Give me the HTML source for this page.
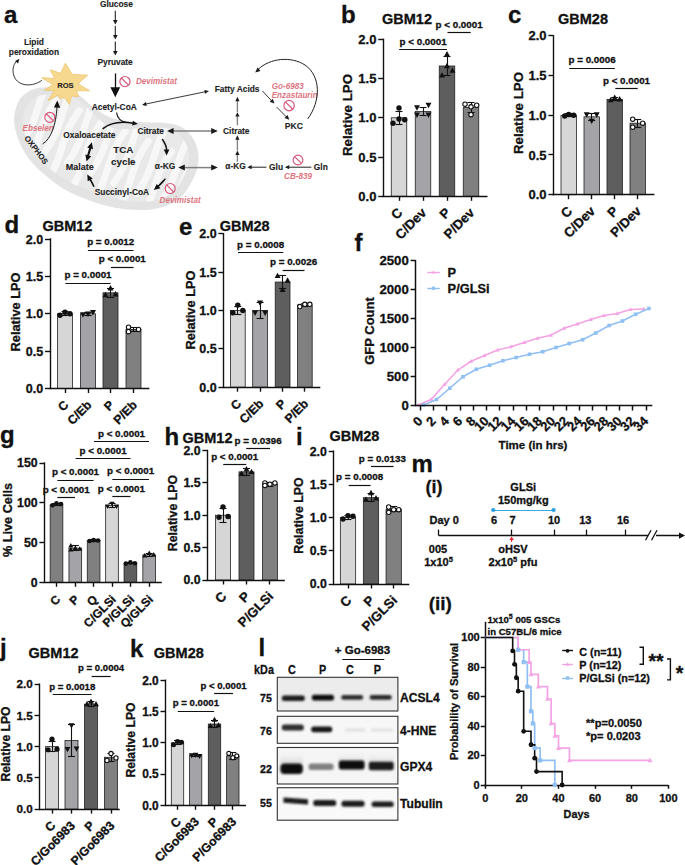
<!DOCTYPE html>
<html><head><meta charset="utf-8"><style>html,body{margin:0;padding:0;background:#fff;overflow:hidden}svg{display:block}</style></head>
<body>
<svg width="685" height="865" viewBox="0 0 685 865">
<rect width="685" height="865" fill="#fff"/>
<g style="font-family:'Liberation Sans',sans-serif">
<text x="4.00" y="23.00" font-size="24" font-weight="bold" text-anchor="start" fill="#111" stroke="#111" stroke-width="0.3">a</text>
<text x="341.00" y="23.00" font-size="24" font-weight="bold" text-anchor="start" fill="#111" stroke="#111" stroke-width="0.3">b</text>
<text x="508.00" y="23.00" font-size="24" font-weight="bold" text-anchor="start" fill="#111" stroke="#111" stroke-width="0.3">c</text>
<text x="4.50" y="233.00" font-size="24" font-weight="bold" text-anchor="start" fill="#111" stroke="#111" stroke-width="0.3">d</text>
<text x="179.00" y="235.00" font-size="24" font-weight="bold" text-anchor="start" fill="#111" stroke="#111" stroke-width="0.3">e</text>
<text x="354.50" y="251.00" font-size="24" font-weight="bold" text-anchor="start" fill="#111" stroke="#111" stroke-width="0.3">f</text>
<text x="0.00" y="443.00" font-size="24" font-weight="bold" text-anchor="start" fill="#111" stroke="#111" stroke-width="0.3">g</text>
<text x="164.50" y="445.00" font-size="24" font-weight="bold" text-anchor="start" fill="#111" stroke="#111" stroke-width="0.3">h</text>
<text x="296.00" y="444.50" font-size="24" font-weight="bold" text-anchor="start" fill="#111" stroke="#111" stroke-width="0.3">i</text>
<text x="411.50" y="471.50" font-size="24" font-weight="bold" text-anchor="start" fill="#111" stroke="#111" stroke-width="0.3">m</text>
<text x="0.00" y="655.50" font-size="24" font-weight="bold" text-anchor="start" fill="#111" stroke="#111" stroke-width="0.3">j</text>
<text x="130.00" y="657.00" font-size="24" font-weight="bold" text-anchor="start" fill="#111" stroke="#111" stroke-width="0.3">k</text>
<text x="258.50" y="655.50" font-size="24" font-weight="bold" text-anchor="start" fill="#111" stroke="#111" stroke-width="0.3">l</text>
<defs><clipPath id="mitoin"><path d="M22.99 123.06 C22.80 117.21 24.60 110.47 26.77 106.17 C28.95 101.87 32.39 99.26 36.06 97.25 C39.73 95.25 43.85 94.34 48.79 94.14 C53.74 93.94 61.06 95.24 65.73 96.08 C70.40 96.92 73.43 97.52 76.83 99.18 C80.22 100.85 83.18 103.53 86.09 106.07 C89.00 108.61 90.86 111.27 94.26 114.42 C97.67 117.57 102.66 122.54 106.52 124.99 C110.38 127.43 113.56 128.46 117.40 129.09 C121.23 129.72 125.40 128.94 129.54 128.77 C133.68 128.59 137.72 128.29 142.22 128.05 C146.72 127.80 152.05 127.17 156.53 127.31 C161.02 127.44 165.41 127.70 169.12 128.86 C172.82 130.03 176.04 131.93 178.78 134.30 C181.52 136.67 183.86 139.61 185.56 143.08 C187.27 146.56 188.66 151.11 189.01 155.13 C189.36 159.16 188.82 163.13 187.67 167.22 C186.52 171.31 184.41 175.69 182.10 179.68 C179.79 183.66 177.37 187.97 173.83 191.14 C170.30 194.32 165.18 196.97 160.88 198.71 C156.58 200.45 152.28 201.11 148.03 201.61 C143.79 202.10 140.41 202.08 135.41 201.68 C130.41 201.28 123.69 200.39 118.03 199.21 C112.37 198.03 106.66 196.27 101.44 194.61 C96.23 192.95 91.74 191.21 86.71 189.25 C81.68 187.30 76.74 185.80 71.27 182.89 C65.81 179.97 59.39 175.86 53.92 171.74 C48.46 167.62 42.80 163.24 38.46 158.16 C34.13 153.08 30.49 147.11 27.92 141.26 C25.34 135.41 23.18 128.91 22.99 123.06Z"/></clipPath></defs>
<path d="M14.00 120.00 C14.00 113.58 16.08 106.25 18.50 101.50 C20.92 96.75 24.58 93.83 28.50 91.50 C32.42 89.17 36.75 88.00 42.00 87.50 C47.25 87.00 55.00 87.92 60.00 88.50 C65.00 89.08 68.33 89.50 72.00 91.00 C75.67 92.50 78.83 95.08 82.00 97.50 C85.17 99.92 87.00 102.50 91.00 105.50 C95.00 108.50 101.00 113.03 106.00 115.50 C111.00 117.97 116.00 119.25 121.00 120.30 C126.00 121.35 131.17 121.42 136.00 121.80 C140.83 122.18 145.17 122.40 150.00 122.60 C154.83 122.80 160.33 122.52 165.00 123.00 C169.67 123.48 174.17 124.00 178.00 125.50 C181.83 127.00 185.17 129.25 188.00 132.00 C190.83 134.75 193.25 138.08 195.00 142.00 C196.75 145.92 198.17 151.00 198.50 155.50 C198.83 160.00 198.25 164.42 197.00 169.00 C195.75 173.58 193.50 178.50 191.00 183.00 C188.50 187.50 185.83 192.33 182.00 196.00 C178.17 199.67 172.67 202.83 168.00 205.00 C163.33 207.17 158.67 208.17 154.00 209.00 C149.33 209.83 145.67 210.08 140.00 210.00 C134.33 209.92 126.67 209.50 120.00 208.50 C113.33 207.50 106.33 205.83 100.00 204.00 C93.67 202.17 88.00 200.00 82.00 197.50 C76.00 195.00 70.17 192.75 64.00 189.00 C57.83 185.25 50.83 180.00 45.00 175.00 C39.17 170.00 33.42 164.83 29.00 159.00 C24.58 153.17 21.00 146.50 18.50 140.00 C16.00 133.50 14.00 126.42 14.00 120.00Z" fill="#e3e3e3"/>
<path d="M22.99 123.06 C22.80 117.21 24.60 110.47 26.77 106.17 C28.95 101.87 32.39 99.26 36.06 97.25 C39.73 95.25 43.85 94.34 48.79 94.14 C53.74 93.94 61.06 95.24 65.73 96.08 C70.40 96.92 73.43 97.52 76.83 99.18 C80.22 100.85 83.18 103.53 86.09 106.07 C89.00 108.61 90.86 111.27 94.26 114.42 C97.67 117.57 102.66 122.54 106.52 124.99 C110.38 127.43 113.56 128.46 117.40 129.09 C121.23 129.72 125.40 128.94 129.54 128.77 C133.68 128.59 137.72 128.29 142.22 128.05 C146.72 127.80 152.05 127.17 156.53 127.31 C161.02 127.44 165.41 127.70 169.12 128.86 C172.82 130.03 176.04 131.93 178.78 134.30 C181.52 136.67 183.86 139.61 185.56 143.08 C187.27 146.56 188.66 151.11 189.01 155.13 C189.36 159.16 188.82 163.13 187.67 167.22 C186.52 171.31 184.41 175.69 182.10 179.68 C179.79 183.66 177.37 187.97 173.83 191.14 C170.30 194.32 165.18 196.97 160.88 198.71 C156.58 200.45 152.28 201.11 148.03 201.61 C143.79 202.10 140.41 202.08 135.41 201.68 C130.41 201.28 123.69 200.39 118.03 199.21 C112.37 198.03 106.66 196.27 101.44 194.61 C96.23 192.95 91.74 191.21 86.71 189.25 C81.68 187.30 76.74 185.80 71.27 182.89 C65.81 179.97 59.39 175.86 53.92 171.74 C48.46 167.62 42.80 163.24 38.46 158.16 C34.13 153.08 30.49 147.11 27.92 141.26 C25.34 135.41 23.18 128.91 22.99 123.06Z" fill="#e9e9e9"/>
<g clip-path="url(#mitoin)" fill="none" stroke="#f7f7f7" stroke-width="7" stroke-linecap="round">
<g transform="translate(108 152) rotate(24)">
<path d="M-82.0 -50 C-88.0 -25 -76.0 -5 -83.0 26"/>
<path d="M-69.4 50 C-63.4 25 -75.4 5 -68.4 -26"/>
<path d="M-56.8 -50 C-62.8 -25 -50.8 -5 -57.8 26"/>
<path d="M-44.2 50 C-38.2 25 -50.2 5 -43.2 -26"/>
<path d="M-31.6 -50 C-37.6 -25 -25.6 -5 -32.6 26"/>
<path d="M-19.0 50 C-13.0 25 -25.0 5 -18.0 -26"/>
<path d="M-6.4 -50 C-12.4 -25 -0.4 -5 -7.4 26"/>
<path d="M6.2 50 C12.2 25 0.2 5 7.2 -26"/>
<path d="M18.8 -50 C12.8 -25 24.8 -5 17.8 26"/>
<path d="M31.4 50 C37.4 25 25.4 5 32.4 -26"/>
<path d="M44.0 -50 C38.0 -25 50.0 -5 43.0 26"/>
<path d="M56.6 50 C62.6 25 50.6 5 57.6 -26"/>
<path d="M69.2 -50 C63.2 -25 75.2 -5 68.2 26"/>
<path d="M81.8 50 C87.8 25 75.8 5 82.8 -26"/>
</g></g>
<polygon points="65.40,63.20 72.24,74.44 87.76,75.13 77.85,83.81 89.70,90.78 76.46,90.73 78.63,96.81 71.60,95.75 69.41,104.60 64.26,97.35 59.78,98.81 58.23,95.14 47.79,100.76 54.36,90.77 44.34,90.15 52.90,84.57 41.78,77.68 54.69,78.46 50.27,69.77 60.62,73.35" fill="#f6d98f" stroke="#ecc46c" stroke-width="0.8" stroke-linejoin="round"/>
<text x="65.40" y="87.80" font-size="7.6" font-weight="bold" text-anchor="middle" fill="#222" stroke="#222" stroke-width="0.12">ROS</text>
<text x="116.40" y="6.60" font-size="8.4" font-weight="bold" text-anchor="middle" fill="#222" stroke="#222" stroke-width="0.12">Glucose</text>
<text x="115.10" y="65.10" font-size="8.4" font-weight="bold" text-anchor="middle" fill="#222" stroke="#222" stroke-width="0.12">Pyruvate</text>
<text x="33.90" y="45.20" font-size="8.4" font-weight="bold" text-anchor="middle" fill="#222" stroke="#222" stroke-width="0.12">Lipid</text>
<text x="33.90" y="54.70" font-size="8.4" font-weight="bold" text-anchor="middle" fill="#222" stroke="#222" stroke-width="0.12">peroxidation</text>
<text x="91.70" y="109.60" font-size="8.4" font-weight="bold" text-anchor="start" fill="#222" stroke="#222" stroke-width="0.12">Acetyl-CoA</text>
<text x="63.30" y="137.60" font-size="8.4" font-weight="bold" text-anchor="start" fill="#222" stroke="#222" stroke-width="0.12">Oxaloacetate</text>
<text x="137.40" y="133.60" font-size="8.4" font-weight="bold" text-anchor="start" fill="#222" stroke="#222" stroke-width="0.12">Citrate</text>
<text x="123.30" y="153.00" font-size="9.8" font-weight="bold" text-anchor="middle" fill="#222" stroke="#222" stroke-width="0.12">TCA</text>
<text x="123.30" y="164.60" font-size="9.8" font-weight="bold" text-anchor="middle" fill="#222" stroke="#222" stroke-width="0.12">cycle</text>
<text x="65.80" y="169.80" font-size="9.0" font-weight="bold" text-anchor="start" fill="#222" stroke="#222" stroke-width="0.12">Malate</text>
<text x="154.80" y="169.30" font-size="8.4" font-weight="bold" text-anchor="start" fill="#222" stroke="#222" stroke-width="0.12">&#945;-KG</text>
<text x="94.70" y="194.80" font-size="8.4" font-weight="bold" text-anchor="start" fill="#222" stroke="#222" stroke-width="0.12">Succinyl-CoA</text>
<text x="214.70" y="91.70" font-size="8.4" font-weight="bold" text-anchor="start" fill="#222" stroke="#222" stroke-width="0.12">Fatty Acids</text>
<text x="223.00" y="134.00" font-size="8.4" font-weight="bold" text-anchor="start" fill="#222" stroke="#222" stroke-width="0.12">Citrate</text>
<text x="225.30" y="169.30" font-size="8.4" font-weight="bold" text-anchor="start" fill="#222" stroke="#222" stroke-width="0.12">&#945;-KG</text>
<text x="269.10" y="169.70" font-size="8.4" font-weight="bold" text-anchor="start" fill="#222" stroke="#222" stroke-width="0.12">Glu</text>
<text x="313.80" y="169.70" font-size="8.4" font-weight="bold" text-anchor="start" fill="#222" stroke="#222" stroke-width="0.12">Gln</text>
<text x="284.70" y="128.80" font-size="8.6" font-weight="bold" text-anchor="start" fill="#222" stroke="#222" stroke-width="0.12">PKC</text>
<text x="24.10" y="138.20" font-size="7.8" font-weight="bold" text-anchor="start" fill="#222" stroke="#222" stroke-width="0.12" transform="rotate(53 24.10 138.20)">OXPHOS</text>
<text x="135.90" y="84.30" font-size="8.15" font-weight="bold" text-anchor="start" fill="#dd7580" font-style="italic">Devimistat</text>
<text x="159.60" y="202.60" font-size="8.15" font-weight="bold" text-anchor="start" fill="#dd7580" font-style="italic">Devimistat</text>
<text x="22.50" y="130.60" font-size="8.15" font-weight="bold" text-anchor="start" fill="#dd7580" font-style="italic">Ebselen</text>
<text x="271.70" y="88.90" font-size="8.15" font-weight="bold" text-anchor="start" fill="#dd7580" font-style="italic">Go-6983</text>
<text x="271.70" y="97.80" font-size="8.15" font-weight="bold" text-anchor="start" fill="#dd7580" font-style="italic">Enzastaurin</text>
<text x="284.10" y="179.20" font-size="8.15" font-weight="bold" text-anchor="start" fill="#dd7580" font-style="italic">CB-839</text>
<circle cx="124.95" cy="81.6" r="5.1" fill="none" stroke="#d8557a" stroke-width="1.15"/>
<line x1="121.34" y1="77.99" x2="128.56" y2="85.21" stroke="#d8557a" stroke-width="1.15"/>
<circle cx="49.8" cy="117.3" r="5.0" fill="none" stroke="#d8557a" stroke-width="1.15"/>
<line x1="46.26" y1="113.76" x2="53.34" y2="120.84" stroke="#d8557a" stroke-width="1.15"/>
<circle cx="170.2" cy="188.5" r="5.0" fill="none" stroke="#d8557a" stroke-width="1.15"/>
<line x1="166.66" y1="184.96" x2="173.74" y2="192.04" stroke="#d8557a" stroke-width="1.15"/>
<circle cx="289.1" cy="105.6" r="5.2" fill="none" stroke="#d8557a" stroke-width="1.15"/>
<line x1="285.42" y1="101.92" x2="292.78" y2="109.28" stroke="#d8557a" stroke-width="1.15"/>
<circle cx="298" cy="160" r="4.9" fill="none" stroke="#d8557a" stroke-width="1.15"/>
<line x1="294.54" y1="156.54" x2="301.46" y2="163.46" stroke="#d8557a" stroke-width="1.15"/>
<line x1="115.3" y1="10.7" x2="115.3" y2="21.6" stroke="#1a1a1a" stroke-width="1.05"/>
<path d="M115.30 24.60 L112.95 20.10 L117.65 20.10Z" fill="#1a1a1a"/>
<line x1="115.3" y1="26" x2="115.3" y2="36.6" stroke="#1a1a1a" stroke-width="1.05"/>
<path d="M115.30 39.60 L112.95 35.10 L117.65 35.10Z" fill="#1a1a1a"/>
<line x1="115.3" y1="41.6" x2="115.3" y2="52.5" stroke="#1a1a1a" stroke-width="1.05"/>
<path d="M115.30 55.50 L112.95 51.00 L117.65 51.00Z" fill="#1a1a1a"/>
<line x1="115.50" y1="73.40" x2="115.50" y2="88.00" stroke="#111" stroke-width="1.3"/>
<path d="M115.30 97.30 L110.40 87.30 L120.20 87.30Z" fill="#111"/>
<line x1="144.00" y1="104.40" x2="206.00" y2="91.60" stroke="#222" stroke-width="0.9"/>
<path d="M142.00 104.90 L145.90 102.05 L146.71 105.97Z" fill="#1a1a1a"/>
<path d="M209.00 91.00 L205.10 93.85 L204.29 89.93Z" fill="#1a1a1a"/>
<path d="M41.8 80.3 C33 87 18 87 14 76 C11.5 69 14 63 17.5 60.5" fill="none" stroke="#222" stroke-width="0.9"/>
<path d="M19.40 58.80 L18.10 63.46 L15.04 60.89Z" fill="#1a1a1a"/>
<path d="M42.6 143.9 C51 139 56 125 57 107" fill="none" stroke="#222" stroke-width="1.0"/>
<path d="M57.30 100.60 L60.25 107.71 L53.86 107.48Z" fill="#111"/>
<path d="M116.5 112.5 C117.5 118 120 121.5 126 122.3" fill="none" stroke="#222" stroke-width="1.3"/>
<path d="M102.6 128.9 C110 123 120 121 133 123.2" fill="none" stroke="#111" stroke-width="1.5"/>
<path d="M137.90 124.00 L132.07 125.41 L132.90 120.68Z" fill="#111"/>
<path d="M162.2 139.1 C165 143 166.5 146 166.6 150" fill="none" stroke="#111" stroke-width="1.6"/>
<path d="M166.60 155.60 L163.80 149.40 L169.40 149.40Z" fill="#111"/>
<path d="M165.4 178.8 C162 182.5 160 185 157.5 187" fill="none" stroke="#111" stroke-width="1.6"/>
<path d="M153.80 190.10 L156.75 183.97 L160.35 188.26Z" fill="#111"/>
<path d="M94 186.8 C92 182 90.5 180 89.5 178.5" fill="none" stroke="#111" stroke-width="1.6"/>
<path d="M87.30 174.40 L92.68 178.56 L87.74 181.19Z" fill="#111"/>
<line x1="90.6" y1="147" x2="87.7" y2="157" stroke="#111" stroke-width="2.1"/>
<path d="M91.90 142.20 L92.99 149.28 L87.22 147.62Z" fill="#111"/>
<path d="M86.50 161.60 L85.41 154.52 L91.18 156.18Z" fill="#111"/>
<line x1="172" y1="131.1" x2="212.5" y2="131.1" stroke="#808080" stroke-width="1.5"/>
<path d="M167.00 131.10 L173.60 128.10 L173.60 134.10Z" fill="#1a1a1a"/>
<path d="M217.80 131.10 L211.20 134.10 L211.20 128.10Z" fill="#1a1a1a"/>
<line x1="183.2" y1="167.6" x2="212.5" y2="167.6" stroke="#808080" stroke-width="1.5"/>
<path d="M178.20 167.60 L184.80 164.60 L184.80 170.60Z" fill="#1a1a1a"/>
<path d="M217.80 167.60 L211.20 170.60 L211.20 164.60Z" fill="#1a1a1a"/>
<line x1="237.4" y1="161.8" x2="237.4" y2="154.0" stroke="#858585" stroke-width="1.4"/>
<path d="M237.40 150.50 L239.50 154.90 L235.30 154.90Z" fill="#1a1a1a"/>
<line x1="237.4" y1="150.5" x2="237.4" y2="138.8" stroke="#858585" stroke-width="1.4"/>
<path d="M237.40 135.30 L239.50 139.70 L235.30 139.70Z" fill="#1a1a1a"/>
<line x1="237.4" y1="125.3" x2="237.4" y2="115.7" stroke="#858585" stroke-width="1.4"/>
<path d="M237.40 112.20 L239.50 116.60 L235.30 116.60Z" fill="#1a1a1a"/>
<line x1="237.4" y1="112.2" x2="237.4" y2="100.3" stroke="#858585" stroke-width="1.4"/>
<path d="M237.40 96.80 L239.50 101.20 L235.30 101.20Z" fill="#1a1a1a"/>
<line x1="266.4" y1="167.2" x2="251" y2="167.2" stroke="#222" stroke-width="1"/>
<path d="M247.40 167.20 L251.60 165.10 L251.60 169.30Z" fill="#1a1a1a"/>
<line x1="311.4" y1="167.2" x2="288.5" y2="167.2" stroke="#222" stroke-width="1"/>
<path d="M285.00 167.20 L289.20 165.10 L289.20 169.30Z" fill="#1a1a1a"/>
<line x1="262.40" y1="91.00" x2="272.00" y2="101.20" stroke="#222" stroke-width="0.9"/>
<path d="M274.40 103.60 L269.64 101.78 L272.83 98.75Z" fill="#1a1a1a"/>
<line x1="276.70" y1="107.10" x2="287.00" y2="117.50" stroke="#222" stroke-width="0.9"/>
<path d="M289.30 119.80 L284.51 118.06 L287.64 114.98Z" fill="#1a1a1a"/>
<path d="M307.7 118.9 C321 101 321 76 305 65 C291 56 270 58 258 69.5" fill="none" stroke="#222" stroke-width="1.0"/>
<path d="M255.20 72.40 L257.55 67.42 L260.51 70.95Z" fill="#1a1a1a"/>
<rect x="391.25" y="117.80" width="15.50" height="78.50" fill="#d6d6d6" stroke="#222" stroke-width="0.8"/>
<rect x="415.25" y="111.52" width="15.50" height="84.78" fill="#a4a4a8" stroke="#222" stroke-width="0.8"/>
<rect x="439.25" y="65.99" width="15.50" height="130.31" fill="#5e5e5e" stroke="#222" stroke-width="0.8"/>
<rect x="463.25" y="107.60" width="15.50" height="88.70" fill="#808080" stroke="#222" stroke-width="0.8"/>
<line x1="399.50" y1="111.13" x2="399.50" y2="124.47" stroke="#111" stroke-width="1.1"/>
<line x1="395.50" y1="111.50" x2="402.50" y2="111.50" stroke="#111" stroke-width="1.1"/>
<line x1="395.50" y1="124.50" x2="402.50" y2="124.50" stroke="#111" stroke-width="1.1"/>
<circle cx="393.00" cy="123.30" r="2.70" fill="#111"/>
<circle cx="399.00" cy="118.98" r="2.70" fill="#111"/>
<circle cx="404.70" cy="119.76" r="2.70" fill="#111"/>
<circle cx="399.00" cy="107.99" r="2.70" fill="#111"/>
<line x1="423.50" y1="107.44" x2="423.50" y2="115.60" stroke="#111" stroke-width="1.1"/>
<line x1="419.50" y1="107.50" x2="426.50" y2="107.50" stroke="#111" stroke-width="1.1"/>
<line x1="419.50" y1="115.50" x2="426.50" y2="115.50" stroke="#111" stroke-width="1.1"/>
<path d="M417.00 110.68 L419.97 105.28 L414.03 105.28Z" fill="#111"/>
<path d="M428.50 108.24 L431.47 102.84 L425.53 102.84Z" fill="#111"/>
<path d="M417.00 117.90 L419.97 112.50 L414.03 112.50Z" fill="#111"/>
<path d="M428.50 117.90 L431.47 112.50 L425.53 112.50Z" fill="#111"/>
<line x1="447.50" y1="56.96" x2="447.50" y2="75.02" stroke="#111" stroke-width="1.1"/>
<line x1="443.50" y1="56.50" x2="450.50" y2="56.50" stroke="#111" stroke-width="1.1"/>
<line x1="443.50" y1="75.50" x2="450.50" y2="75.50" stroke="#111" stroke-width="1.1"/>
<path d="M447.00 50.98 L449.97 56.38 L444.03 56.38Z" fill="#111"/>
<path d="M442.00 72.17 L444.97 77.57 L439.03 77.57Z" fill="#111"/>
<path d="M452.40 67.46 L455.37 72.86 L449.43 72.86Z" fill="#111"/>
<path d="M447.00 62.75 L449.97 68.15 L444.03 68.15Z" fill="#111"/>
<line x1="471.50" y1="102.89" x2="471.50" y2="112.31" stroke="#111" stroke-width="1.1"/>
<line x1="467.50" y1="102.50" x2="474.50" y2="102.50" stroke="#111" stroke-width="1.1"/>
<line x1="467.50" y1="112.50" x2="474.50" y2="112.50" stroke="#111" stroke-width="1.1"/>
<circle cx="465.00" cy="104.22" r="2.20" fill="#fff" stroke="#111" stroke-width="1.1"/>
<circle cx="476.70" cy="105.24" r="2.20" fill="#fff" stroke="#111" stroke-width="1.1"/>
<circle cx="471.00" cy="114.66" r="2.20" fill="#fff" stroke="#111" stroke-width="1.1"/>
<circle cx="471.00" cy="106.81" r="2.20" fill="#fff" stroke="#111" stroke-width="1.1"/>
<line x1="383.50" y1="38.60" x2="383.50" y2="197.00" stroke="#111" stroke-width="1.4"/>
<line x1="382.50" y1="196.50" x2="487.50" y2="196.50" stroke="#111" stroke-width="1.4"/>
<line x1="378.20" y1="196.50" x2="383.20" y2="196.50" stroke="#111" stroke-width="1.4"/>
<text x="376.40" y="200.98" font-size="13" font-weight="bold" text-anchor="end" fill="#111" stroke="#111" stroke-width="0.3">0.0</text>
<line x1="378.20" y1="157.50" x2="383.20" y2="157.50" stroke="#111" stroke-width="1.4"/>
<text x="376.40" y="161.73" font-size="13" font-weight="bold" text-anchor="end" fill="#111" stroke="#111" stroke-width="0.3">0.5</text>
<line x1="378.20" y1="117.50" x2="383.20" y2="117.50" stroke="#111" stroke-width="1.4"/>
<text x="376.40" y="122.48" font-size="13" font-weight="bold" text-anchor="end" fill="#111" stroke="#111" stroke-width="0.3">1.0</text>
<line x1="378.20" y1="78.50" x2="383.20" y2="78.50" stroke="#111" stroke-width="1.4"/>
<text x="376.40" y="83.23" font-size="13" font-weight="bold" text-anchor="end" fill="#111" stroke="#111" stroke-width="0.3">1.5</text>
<line x1="378.20" y1="39.50" x2="383.20" y2="39.50" stroke="#111" stroke-width="1.4"/>
<text x="376.40" y="43.98" font-size="13" font-weight="bold" text-anchor="end" fill="#111" stroke="#111" stroke-width="0.3">2.0</text>
<line x1="399.50" y1="196.30" x2="399.50" y2="200.80" stroke="#111" stroke-width="1.4"/>
<line x1="423.50" y1="196.30" x2="423.50" y2="200.80" stroke="#111" stroke-width="1.4"/>
<line x1="447.50" y1="196.30" x2="447.50" y2="200.80" stroke="#111" stroke-width="1.4"/>
<line x1="471.50" y1="196.30" x2="471.50" y2="200.80" stroke="#111" stroke-width="1.4"/>
<text x="403.30" y="213.50" font-size="13.3" font-weight="bold" text-anchor="end" fill="#111" stroke="#111" stroke-width="0.3" transform="rotate(-45 403.30 213.50)">C</text>
<text x="427.30" y="213.50" font-size="13.3" font-weight="bold" text-anchor="end" fill="#111" stroke="#111" stroke-width="0.3" transform="rotate(-45 427.30 213.50)">C/Dev</text>
<text x="451.30" y="213.50" font-size="13.3" font-weight="bold" text-anchor="end" fill="#111" stroke="#111" stroke-width="0.3" transform="rotate(-45 451.30 213.50)">P</text>
<text x="475.30" y="213.50" font-size="13.3" font-weight="bold" text-anchor="end" fill="#111" stroke="#111" stroke-width="0.3" transform="rotate(-45 475.30 213.50)">P/Dev</text>
<line x1="399.20" y1="49.50" x2="447.00" y2="49.50" stroke="#111" stroke-width="1.2"/>
<text x="423.10" y="44.60" font-size="9.8" font-weight="bold" text-anchor="middle" fill="#111" stroke="#111" stroke-width="0.3">p &lt; 0.0001</text>
<line x1="447.50" y1="32.50" x2="470.70" y2="32.50" stroke="#111" stroke-width="1.2"/>
<text x="459.10" y="27.90" font-size="9.8" font-weight="bold" text-anchor="middle" fill="#111" stroke="#111" stroke-width="0.3">p &lt; 0.0001</text>
<text x="352.00" y="115.00" font-size="13.3" font-weight="bold" text-anchor="middle" fill="#111" stroke="#111" stroke-width="0.3" transform="rotate(-90 352.00 115.00)">Relative LPO</text>
<text x="382.00" y="23.70" font-size="14.5" font-weight="bold" text-anchor="start" fill="#111" stroke="#111" stroke-width="0.3">GBM12</text>
<rect x="561.00" y="115.25" width="15.40" height="79.45" fill="#d6d6d6" stroke="#222" stroke-width="0.8"/>
<rect x="584.00" y="116.84" width="15.40" height="77.86" fill="#a4a4a8" stroke="#222" stroke-width="0.8"/>
<rect x="607.00" y="99.36" width="15.40" height="95.34" fill="#5e5e5e" stroke="#222" stroke-width="0.8"/>
<rect x="630.00" y="123.19" width="15.40" height="71.50" fill="#808080" stroke="#222" stroke-width="0.8"/>
<line x1="568.50" y1="113.66" x2="568.50" y2="116.84" stroke="#111" stroke-width="1.1"/>
<line x1="565.20" y1="113.50" x2="572.20" y2="113.50" stroke="#111" stroke-width="1.1"/>
<line x1="565.20" y1="116.50" x2="572.20" y2="116.50" stroke="#111" stroke-width="1.1"/>
<circle cx="564.70" cy="116.04" r="2.70" fill="#111"/>
<circle cx="568.70" cy="114.46" r="2.70" fill="#111"/>
<circle cx="573.70" cy="115.25" r="2.70" fill="#111"/>
<line x1="591.50" y1="113.66" x2="591.50" y2="120.02" stroke="#111" stroke-width="1.1"/>
<line x1="588.20" y1="113.50" x2="595.20" y2="113.50" stroke="#111" stroke-width="1.1"/>
<line x1="588.20" y1="120.50" x2="595.20" y2="120.50" stroke="#111" stroke-width="1.1"/>
<path d="M586.70 117.70 L589.67 112.30 L583.73 112.30Z" fill="#111"/>
<path d="M596.70 117.70 L599.67 112.30 L593.73 112.30Z" fill="#111"/>
<path d="M591.70 124.05 L594.67 118.65 L588.73 118.65Z" fill="#111"/>
<line x1="614.50" y1="97.77" x2="614.50" y2="100.95" stroke="#111" stroke-width="1.1"/>
<line x1="611.20" y1="97.50" x2="618.20" y2="97.50" stroke="#111" stroke-width="1.1"/>
<line x1="611.20" y1="100.50" x2="618.20" y2="100.50" stroke="#111" stroke-width="1.1"/>
<path d="M610.70 96.91 L613.67 102.31 L607.73 102.31Z" fill="#111"/>
<path d="M614.70 94.53 L617.67 99.93 L611.73 99.93Z" fill="#111"/>
<path d="M619.70 96.12 L622.67 101.52 L616.73 101.52Z" fill="#111"/>
<line x1="637.50" y1="119.22" x2="637.50" y2="127.17" stroke="#111" stroke-width="1.1"/>
<line x1="634.20" y1="119.50" x2="641.20" y2="119.50" stroke="#111" stroke-width="1.1"/>
<line x1="634.20" y1="127.50" x2="641.20" y2="127.50" stroke="#111" stroke-width="1.1"/>
<circle cx="632.70" cy="119.22" r="2.20" fill="#fff" stroke="#111" stroke-width="1.1"/>
<circle cx="642.70" cy="123.19" r="2.20" fill="#fff" stroke="#111" stroke-width="1.1"/>
<circle cx="632.70" cy="127.17" r="2.20" fill="#fff" stroke="#111" stroke-width="1.1"/>
<line x1="553.50" y1="35.10" x2="553.50" y2="195.40" stroke="#111" stroke-width="1.4"/>
<line x1="552.70" y1="194.50" x2="654.40" y2="194.50" stroke="#111" stroke-width="1.4"/>
<line x1="548.40" y1="194.50" x2="553.40" y2="194.50" stroke="#111" stroke-width="1.4"/>
<text x="546.60" y="199.38" font-size="13" font-weight="bold" text-anchor="end" fill="#111" stroke="#111" stroke-width="0.3">0.0</text>
<line x1="548.40" y1="154.50" x2="553.40" y2="154.50" stroke="#111" stroke-width="1.4"/>
<text x="546.60" y="159.66" font-size="13" font-weight="bold" text-anchor="end" fill="#111" stroke="#111" stroke-width="0.3">0.5</text>
<line x1="548.40" y1="115.50" x2="553.40" y2="115.50" stroke="#111" stroke-width="1.4"/>
<text x="546.60" y="119.93" font-size="13" font-weight="bold" text-anchor="end" fill="#111" stroke="#111" stroke-width="0.3">1.0</text>
<line x1="548.40" y1="75.50" x2="553.40" y2="75.50" stroke="#111" stroke-width="1.4"/>
<text x="546.60" y="80.21" font-size="13" font-weight="bold" text-anchor="end" fill="#111" stroke="#111" stroke-width="0.3">1.5</text>
<line x1="548.40" y1="35.50" x2="553.40" y2="35.50" stroke="#111" stroke-width="1.4"/>
<text x="546.60" y="40.48" font-size="13" font-weight="bold" text-anchor="end" fill="#111" stroke="#111" stroke-width="0.3">2.0</text>
<line x1="568.50" y1="194.70" x2="568.50" y2="199.20" stroke="#111" stroke-width="1.4"/>
<line x1="591.50" y1="194.70" x2="591.50" y2="199.20" stroke="#111" stroke-width="1.4"/>
<line x1="614.50" y1="194.70" x2="614.50" y2="199.20" stroke="#111" stroke-width="1.4"/>
<line x1="637.50" y1="194.70" x2="637.50" y2="199.20" stroke="#111" stroke-width="1.4"/>
<text x="573.00" y="211.90" font-size="13.3" font-weight="bold" text-anchor="end" fill="#111" stroke="#111" stroke-width="0.3" transform="rotate(-45 573.00 211.90)">C</text>
<text x="596.00" y="211.90" font-size="13.3" font-weight="bold" text-anchor="end" fill="#111" stroke="#111" stroke-width="0.3" transform="rotate(-45 596.00 211.90)">C/Dev</text>
<text x="619.00" y="211.90" font-size="13.3" font-weight="bold" text-anchor="end" fill="#111" stroke="#111" stroke-width="0.3" transform="rotate(-45 619.00 211.90)">P</text>
<text x="642.00" y="211.90" font-size="13.3" font-weight="bold" text-anchor="end" fill="#111" stroke="#111" stroke-width="0.3" transform="rotate(-45 642.00 211.90)">P/Dev</text>
<line x1="569.30" y1="68.50" x2="614.80" y2="68.50" stroke="#111" stroke-width="1.2"/>
<text x="592.05" y="63.40" font-size="9.8" font-weight="bold" text-anchor="middle" fill="#111" stroke="#111" stroke-width="0.3">p = 0.0006</text>
<line x1="615.30" y1="88.50" x2="637.70" y2="88.50" stroke="#111" stroke-width="1.2"/>
<text x="626.50" y="84.30" font-size="9.8" font-weight="bold" text-anchor="middle" fill="#111" stroke="#111" stroke-width="0.3">p &lt; 0.0001</text>
<text x="522.50" y="113.00" font-size="13.3" font-weight="bold" text-anchor="middle" fill="#111" stroke="#111" stroke-width="0.3" transform="rotate(-90 522.50 113.00)">Relative LPO</text>
<text x="558.00" y="23.80" font-size="14.5" font-weight="bold" text-anchor="start" fill="#111" stroke="#111" stroke-width="0.3">GBM28</text>
<rect x="57.50" y="313.75" width="15.00" height="74.75" fill="#d6d6d6" stroke="#222" stroke-width="0.8"/>
<rect x="80.50" y="313.75" width="15.00" height="74.75" fill="#a4a4a8" stroke="#222" stroke-width="0.8"/>
<rect x="103.00" y="292.82" width="15.00" height="95.68" fill="#5e5e5e" stroke="#222" stroke-width="0.8"/>
<rect x="126.00" y="329.45" width="15.00" height="59.05" fill="#808080" stroke="#222" stroke-width="0.8"/>
<line x1="65.50" y1="311.51" x2="65.50" y2="315.99" stroke="#111" stroke-width="1.1"/>
<line x1="61.50" y1="311.50" x2="68.50" y2="311.50" stroke="#111" stroke-width="1.1"/>
<line x1="61.50" y1="315.50" x2="68.50" y2="315.50" stroke="#111" stroke-width="1.1"/>
<circle cx="60.00" cy="315.25" r="2.70" fill="#111"/>
<circle cx="65.00" cy="312.25" r="2.70" fill="#111"/>
<circle cx="70.00" cy="313.75" r="2.70" fill="#111"/>
<line x1="88.50" y1="312.25" x2="88.50" y2="315.25" stroke="#111" stroke-width="1.1"/>
<line x1="84.50" y1="312.50" x2="91.50" y2="312.50" stroke="#111" stroke-width="1.1"/>
<line x1="84.50" y1="315.50" x2="91.50" y2="315.50" stroke="#111" stroke-width="1.1"/>
<path d="M83.00 317.74 L85.97 312.34 L80.03 312.34Z" fill="#111"/>
<path d="M88.00 316.99 L90.97 311.59 L85.03 311.59Z" fill="#111"/>
<path d="M93.00 315.50 L95.97 310.09 L90.03 310.09Z" fill="#111"/>
<line x1="110.50" y1="288.33" x2="110.50" y2="297.31" stroke="#111" stroke-width="1.1"/>
<line x1="107.00" y1="288.50" x2="114.00" y2="288.50" stroke="#111" stroke-width="1.1"/>
<line x1="107.00" y1="297.50" x2="114.00" y2="297.50" stroke="#111" stroke-width="1.1"/>
<path d="M110.50 285.09 L113.47 290.50 L107.53 290.50Z" fill="#111"/>
<path d="M105.50 291.82 L108.47 297.22 L102.53 297.22Z" fill="#111"/>
<path d="M115.50 291.07 L118.47 296.48 L112.53 296.48Z" fill="#111"/>
<line x1="133.50" y1="327.20" x2="133.50" y2="331.69" stroke="#111" stroke-width="1.1"/>
<line x1="130.00" y1="327.50" x2="137.00" y2="327.50" stroke="#111" stroke-width="1.1"/>
<line x1="130.00" y1="331.50" x2="137.00" y2="331.50" stroke="#111" stroke-width="1.1"/>
<circle cx="128.50" cy="327.20" r="2.20" fill="#fff" stroke="#111" stroke-width="1.1"/>
<circle cx="138.50" cy="329.45" r="2.20" fill="#fff" stroke="#111" stroke-width="1.1"/>
<circle cx="128.50" cy="331.69" r="2.20" fill="#fff" stroke="#111" stroke-width="1.1"/>
<line x1="50.50" y1="238.30" x2="50.50" y2="389.20" stroke="#111" stroke-width="1.4"/>
<line x1="49.30" y1="388.50" x2="149.30" y2="388.50" stroke="#111" stroke-width="1.4"/>
<line x1="45.00" y1="388.50" x2="50.00" y2="388.50" stroke="#111" stroke-width="1.4"/>
<text x="43.20" y="393.00" font-size="12.5" font-weight="bold" text-anchor="end" fill="#111" stroke="#111" stroke-width="0.3">0.0</text>
<line x1="45.00" y1="351.50" x2="50.00" y2="351.50" stroke="#111" stroke-width="1.4"/>
<text x="43.20" y="355.62" font-size="12.5" font-weight="bold" text-anchor="end" fill="#111" stroke="#111" stroke-width="0.3">0.5</text>
<line x1="45.00" y1="313.50" x2="50.00" y2="313.50" stroke="#111" stroke-width="1.4"/>
<text x="43.20" y="318.25" font-size="12.5" font-weight="bold" text-anchor="end" fill="#111" stroke="#111" stroke-width="0.3">1.0</text>
<line x1="45.00" y1="276.50" x2="50.00" y2="276.50" stroke="#111" stroke-width="1.4"/>
<text x="43.20" y="280.88" font-size="12.5" font-weight="bold" text-anchor="end" fill="#111" stroke="#111" stroke-width="0.3">1.5</text>
<line x1="45.00" y1="239.50" x2="50.00" y2="239.50" stroke="#111" stroke-width="1.4"/>
<text x="43.20" y="243.50" font-size="12.5" font-weight="bold" text-anchor="end" fill="#111" stroke="#111" stroke-width="0.3">2.0</text>
<line x1="65.50" y1="388.50" x2="65.50" y2="393.00" stroke="#111" stroke-width="1.4"/>
<line x1="88.50" y1="388.50" x2="88.50" y2="393.00" stroke="#111" stroke-width="1.4"/>
<line x1="110.50" y1="388.50" x2="110.50" y2="393.00" stroke="#111" stroke-width="1.4"/>
<line x1="133.50" y1="388.50" x2="133.50" y2="393.00" stroke="#111" stroke-width="1.4"/>
<text x="69.30" y="405.70" font-size="12.3" font-weight="bold" text-anchor="end" fill="#111" stroke="#111" stroke-width="0.3" transform="rotate(-45 69.30 405.70)">C</text>
<text x="92.30" y="405.70" font-size="12.3" font-weight="bold" text-anchor="end" fill="#111" stroke="#111" stroke-width="0.3" transform="rotate(-45 92.30 405.70)">C/Eb</text>
<text x="114.80" y="405.70" font-size="12.3" font-weight="bold" text-anchor="end" fill="#111" stroke="#111" stroke-width="0.3" transform="rotate(-45 114.80 405.70)">P</text>
<text x="137.80" y="405.70" font-size="12.3" font-weight="bold" text-anchor="end" fill="#111" stroke="#111" stroke-width="0.3" transform="rotate(-45 137.80 405.70)">P/Eb</text>
<line x1="87.90" y1="250.50" x2="133.50" y2="250.50" stroke="#111" stroke-width="1.2"/>
<text x="110.70" y="245.40" font-size="9.8" font-weight="bold" text-anchor="middle" fill="#111" stroke="#111" stroke-width="0.3">p = 0.0012</text>
<line x1="111.00" y1="267.50" x2="133.50" y2="267.50" stroke="#111" stroke-width="1.2"/>
<text x="122.25" y="262.40" font-size="9.8" font-weight="bold" text-anchor="middle" fill="#111" stroke="#111" stroke-width="0.3">p &lt; 0.0001</text>
<line x1="65.40" y1="283.50" x2="110.60" y2="283.50" stroke="#111" stroke-width="1.2"/>
<text x="88.00" y="278.40" font-size="9.8" font-weight="bold" text-anchor="middle" fill="#111" stroke="#111" stroke-width="0.3">p = 0.0001</text>
<text x="20.20" y="312.00" font-size="12.8" font-weight="bold" text-anchor="middle" fill="#111" stroke="#111" stroke-width="0.3" transform="rotate(-90 20.20 312.00)">Relative LPO</text>
<text x="42.40" y="231.00" font-size="14.5" font-weight="bold" text-anchor="start" fill="#111" stroke="#111" stroke-width="0.3">GBM12</text>
<rect x="230.40" y="310.45" width="14.80" height="76.75" fill="#d6d6d6" stroke="#222" stroke-width="0.8"/>
<rect x="252.70" y="310.45" width="14.80" height="76.75" fill="#a4a4a8" stroke="#222" stroke-width="0.8"/>
<rect x="275.20" y="282.05" width="14.80" height="105.15" fill="#5e5e5e" stroke="#222" stroke-width="0.8"/>
<rect x="297.40" y="305.08" width="14.80" height="82.12" fill="#808080" stroke="#222" stroke-width="0.8"/>
<line x1="237.50" y1="306.61" x2="237.50" y2="314.29" stroke="#111" stroke-width="1.1"/>
<line x1="234.30" y1="306.50" x2="241.30" y2="306.50" stroke="#111" stroke-width="1.1"/>
<line x1="234.30" y1="314.50" x2="241.30" y2="314.50" stroke="#111" stroke-width="1.1"/>
<circle cx="232.80" cy="312.75" r="2.70" fill="#111"/>
<circle cx="237.80" cy="305.08" r="2.70" fill="#111"/>
<circle cx="242.80" cy="310.45" r="2.70" fill="#111"/>
<line x1="260.50" y1="302.77" x2="260.50" y2="318.12" stroke="#111" stroke-width="1.1"/>
<line x1="256.60" y1="302.50" x2="263.60" y2="302.50" stroke="#111" stroke-width="1.1"/>
<line x1="256.60" y1="318.50" x2="263.60" y2="318.50" stroke="#111" stroke-width="1.1"/>
<path d="M255.10 315.99 L258.07 310.59 L252.13 310.59Z" fill="#111"/>
<path d="M260.10 306.01 L263.07 300.61 L257.13 300.61Z" fill="#111"/>
<path d="M265.10 315.99 L268.07 310.59 L262.13 310.59Z" fill="#111"/>
<line x1="282.50" y1="275.91" x2="282.50" y2="288.19" stroke="#111" stroke-width="1.1"/>
<line x1="279.10" y1="275.50" x2="286.10" y2="275.50" stroke="#111" stroke-width="1.1"/>
<line x1="279.10" y1="288.50" x2="286.10" y2="288.50" stroke="#111" stroke-width="1.1"/>
<path d="M277.60 272.67 L280.57 278.07 L274.63 278.07Z" fill="#111"/>
<path d="M287.60 277.28 L290.57 282.68 L284.63 282.68Z" fill="#111"/>
<path d="M282.60 286.49 L285.57 291.89 L279.63 291.89Z" fill="#111"/>
<line x1="304.50" y1="303.54" x2="304.50" y2="306.61" stroke="#111" stroke-width="1.1"/>
<line x1="301.30" y1="303.50" x2="308.30" y2="303.50" stroke="#111" stroke-width="1.1"/>
<line x1="301.30" y1="306.50" x2="308.30" y2="306.50" stroke="#111" stroke-width="1.1"/>
<circle cx="299.80" cy="306.61" r="2.20" fill="#fff" stroke="#111" stroke-width="1.1"/>
<circle cx="304.80" cy="304.31" r="2.20" fill="#fff" stroke="#111" stroke-width="1.1"/>
<circle cx="309.80" cy="304.31" r="2.20" fill="#fff" stroke="#111" stroke-width="1.1"/>
<line x1="223.50" y1="233.00" x2="223.50" y2="387.90" stroke="#111" stroke-width="1.4"/>
<line x1="222.70" y1="387.50" x2="320.30" y2="387.50" stroke="#111" stroke-width="1.4"/>
<line x1="218.40" y1="387.50" x2="223.40" y2="387.50" stroke="#111" stroke-width="1.4"/>
<text x="216.60" y="391.70" font-size="12.5" font-weight="bold" text-anchor="end" fill="#111" stroke="#111" stroke-width="0.3">0.0</text>
<line x1="218.40" y1="348.50" x2="223.40" y2="348.50" stroke="#111" stroke-width="1.4"/>
<text x="216.60" y="353.32" font-size="12.5" font-weight="bold" text-anchor="end" fill="#111" stroke="#111" stroke-width="0.3">0.5</text>
<line x1="218.40" y1="310.50" x2="223.40" y2="310.50" stroke="#111" stroke-width="1.4"/>
<text x="216.60" y="314.95" font-size="12.5" font-weight="bold" text-anchor="end" fill="#111" stroke="#111" stroke-width="0.3">1.0</text>
<line x1="218.40" y1="272.50" x2="223.40" y2="272.50" stroke="#111" stroke-width="1.4"/>
<text x="216.60" y="276.57" font-size="12.5" font-weight="bold" text-anchor="end" fill="#111" stroke="#111" stroke-width="0.3">1.5</text>
<line x1="218.40" y1="233.50" x2="223.40" y2="233.50" stroke="#111" stroke-width="1.4"/>
<text x="216.60" y="238.20" font-size="12.5" font-weight="bold" text-anchor="end" fill="#111" stroke="#111" stroke-width="0.3">2.0</text>
<line x1="237.50" y1="387.20" x2="237.50" y2="391.70" stroke="#111" stroke-width="1.4"/>
<line x1="260.50" y1="387.20" x2="260.50" y2="391.70" stroke="#111" stroke-width="1.4"/>
<line x1="282.50" y1="387.20" x2="282.50" y2="391.70" stroke="#111" stroke-width="1.4"/>
<line x1="304.50" y1="387.20" x2="304.50" y2="391.70" stroke="#111" stroke-width="1.4"/>
<text x="242.10" y="404.40" font-size="12.3" font-weight="bold" text-anchor="end" fill="#111" stroke="#111" stroke-width="0.3" transform="rotate(-45 242.10 404.40)">C</text>
<text x="264.40" y="404.40" font-size="12.3" font-weight="bold" text-anchor="end" fill="#111" stroke="#111" stroke-width="0.3" transform="rotate(-45 264.40 404.40)">C/Eb</text>
<text x="286.90" y="404.40" font-size="12.3" font-weight="bold" text-anchor="end" fill="#111" stroke="#111" stroke-width="0.3" transform="rotate(-45 286.90 404.40)">P</text>
<text x="309.10" y="404.40" font-size="12.3" font-weight="bold" text-anchor="end" fill="#111" stroke="#111" stroke-width="0.3" transform="rotate(-45 309.10 404.40)">P/Eb</text>
<line x1="238.00" y1="252.50" x2="283.30" y2="252.50" stroke="#111" stroke-width="1.2"/>
<text x="260.65" y="247.80" font-size="9.8" font-weight="bold" text-anchor="middle" fill="#111" stroke="#111" stroke-width="0.3">p = 0.0008</text>
<line x1="282.60" y1="270.50" x2="304.50" y2="270.50" stroke="#111" stroke-width="1.2"/>
<text x="293.55" y="265.40" font-size="9.8" font-weight="bold" text-anchor="middle" fill="#111" stroke="#111" stroke-width="0.3">p = 0.0026</text>
<text x="194.50" y="310.00" font-size="12.8" font-weight="bold" text-anchor="middle" fill="#111" stroke="#111" stroke-width="0.3" transform="rotate(-90 194.50 310.00)">Relative LPO</text>
<text x="219.70" y="230.70" font-size="14.5" font-weight="bold" text-anchor="start" fill="#111" stroke="#111" stroke-width="0.3">GBM28</text>
<rect x="50.15" y="504.75" width="12.70" height="77.54" fill="#808080" stroke="#222" stroke-width="0.8"/>
<rect x="68.95" y="548.10" width="12.70" height="34.20" fill="#a4a4a8" stroke="#222" stroke-width="0.8"/>
<rect x="87.25" y="540.54" width="12.70" height="41.75" fill="#808080" stroke="#222" stroke-width="0.8"/>
<rect x="105.65" y="505.55" width="12.70" height="76.75" fill="#d6d6d6" stroke="#222" stroke-width="0.8"/>
<rect x="124.05" y="563.21" width="12.70" height="19.09" fill="#5e5e5e" stroke="#222" stroke-width="0.8"/>
<rect x="142.85" y="554.86" width="12.70" height="27.44" fill="#a4a4a8" stroke="#222" stroke-width="0.8"/>
<line x1="56.50" y1="503.96" x2="56.50" y2="505.55" stroke="#111" stroke-width="1.1"/>
<line x1="53.00" y1="503.50" x2="60.00" y2="503.50" stroke="#111" stroke-width="1.1"/>
<line x1="53.00" y1="505.50" x2="60.00" y2="505.50" stroke="#111" stroke-width="1.1"/>
<circle cx="52.50" cy="505.31" r="2.30" fill="#111"/>
<circle cx="56.50" cy="503.32" r="2.30" fill="#111"/>
<circle cx="61.00" cy="504.12" r="2.30" fill="#111"/>
<line x1="75.50" y1="545.71" x2="75.50" y2="550.49" stroke="#111" stroke-width="1.1"/>
<line x1="71.80" y1="545.50" x2="78.80" y2="545.50" stroke="#111" stroke-width="1.1"/>
<line x1="71.80" y1="550.50" x2="78.80" y2="550.50" stroke="#111" stroke-width="1.1"/>
<path d="M70.80 542.95 L73.33 547.55 L68.27 547.55Z" fill="#111"/>
<path d="M75.30 545.34 L77.83 549.94 L72.77 549.94Z" fill="#111"/>
<path d="M79.80 546.14 L82.33 550.74 L77.27 550.74Z" fill="#111"/>
<path d="M70.80 546.93 L73.33 551.53 L68.27 551.53Z" fill="#111"/>
<line x1="93.50" y1="539.99" x2="93.50" y2="541.10" stroke="#111" stroke-width="1.1"/>
<line x1="90.10" y1="539.50" x2="97.10" y2="539.50" stroke="#111" stroke-width="1.1"/>
<line x1="90.10" y1="541.50" x2="97.10" y2="541.50" stroke="#111" stroke-width="1.1"/>
<circle cx="89.60" cy="540.94" r="2.30" fill="#111"/>
<circle cx="93.60" cy="540.15" r="2.30" fill="#111"/>
<circle cx="98.10" cy="540.54" r="2.30" fill="#111"/>
<line x1="112.50" y1="503.96" x2="112.50" y2="507.14" stroke="#111" stroke-width="1.1"/>
<line x1="108.50" y1="503.50" x2="115.50" y2="503.50" stroke="#111" stroke-width="1.1"/>
<line x1="108.50" y1="507.50" x2="115.50" y2="507.50" stroke="#111" stroke-width="1.1"/>
<path d="M107.50 509.11 L110.03 504.51 L104.97 504.51Z" fill="#111"/>
<path d="M112.00 506.32 L114.53 501.72 L109.47 501.72Z" fill="#111"/>
<path d="M116.50 509.11 L119.03 504.51 L113.97 504.51Z" fill="#111"/>
<line x1="130.50" y1="562.81" x2="130.50" y2="563.61" stroke="#111" stroke-width="1.1"/>
<line x1="126.90" y1="562.50" x2="133.90" y2="562.50" stroke="#111" stroke-width="1.1"/>
<line x1="126.90" y1="563.50" x2="133.90" y2="563.50" stroke="#111" stroke-width="1.1"/>
<circle cx="125.90" cy="563.61" r="2.30" fill="#111"/>
<circle cx="130.40" cy="562.42" r="2.30" fill="#111"/>
<circle cx="134.90" cy="563.21" r="2.30" fill="#111"/>
<line x1="149.50" y1="553.67" x2="149.50" y2="556.05" stroke="#111" stroke-width="1.1"/>
<line x1="145.70" y1="553.50" x2="152.70" y2="553.50" stroke="#111" stroke-width="1.1"/>
<line x1="145.70" y1="556.50" x2="152.70" y2="556.50" stroke="#111" stroke-width="1.1"/>
<path d="M144.70 552.90 L147.23 557.50 L142.17 557.50Z" fill="#111"/>
<path d="M149.20 550.51 L151.73 555.11 L146.67 555.11Z" fill="#111"/>
<path d="M153.70 552.10 L156.23 556.70 L151.17 556.70Z" fill="#111"/>
<line x1="44.50" y1="462.30" x2="44.50" y2="583.00" stroke="#111" stroke-width="1.4"/>
<line x1="43.70" y1="582.50" x2="161.80" y2="582.50" stroke="#111" stroke-width="1.4"/>
<line x1="39.40" y1="582.50" x2="44.40" y2="582.50" stroke="#111" stroke-width="1.4"/>
<text x="37.60" y="586.73" font-size="12.3" font-weight="bold" text-anchor="end" fill="#111" stroke="#111" stroke-width="0.3">0</text>
<line x1="39.40" y1="542.50" x2="44.40" y2="542.50" stroke="#111" stroke-width="1.4"/>
<text x="37.60" y="546.96" font-size="12.3" font-weight="bold" text-anchor="end" fill="#111" stroke="#111" stroke-width="0.3">50</text>
<line x1="39.40" y1="502.50" x2="44.40" y2="502.50" stroke="#111" stroke-width="1.4"/>
<text x="37.60" y="507.19" font-size="12.3" font-weight="bold" text-anchor="end" fill="#111" stroke="#111" stroke-width="0.3">100</text>
<line x1="39.40" y1="463.50" x2="44.40" y2="463.50" stroke="#111" stroke-width="1.4"/>
<text x="37.60" y="467.43" font-size="12.3" font-weight="bold" text-anchor="end" fill="#111" stroke="#111" stroke-width="0.3">150</text>
<line x1="56.50" y1="582.30" x2="56.50" y2="586.80" stroke="#111" stroke-width="1.4"/>
<line x1="75.50" y1="582.30" x2="75.50" y2="586.80" stroke="#111" stroke-width="1.4"/>
<line x1="93.50" y1="582.30" x2="93.50" y2="586.80" stroke="#111" stroke-width="1.4"/>
<line x1="112.50" y1="582.30" x2="112.50" y2="586.80" stroke="#111" stroke-width="1.4"/>
<line x1="130.50" y1="582.30" x2="130.50" y2="586.80" stroke="#111" stroke-width="1.4"/>
<line x1="149.50" y1="582.30" x2="149.50" y2="586.80" stroke="#111" stroke-width="1.4"/>
<text x="61.10" y="600.10" font-size="11.9" font-weight="bold" text-anchor="end" fill="#111" stroke="#111" stroke-width="0.3" transform="rotate(-45 61.10 600.10)">C</text>
<text x="79.90" y="600.10" font-size="11.9" font-weight="bold" text-anchor="end" fill="#111" stroke="#111" stroke-width="0.3" transform="rotate(-45 79.90 600.10)">P</text>
<text x="98.20" y="600.10" font-size="11.9" font-weight="bold" text-anchor="end" fill="#111" stroke="#111" stroke-width="0.3" transform="rotate(-45 98.20 600.10)">Q</text>
<text x="116.60" y="600.10" font-size="11.9" font-weight="bold" text-anchor="end" fill="#111" stroke="#111" stroke-width="0.3" transform="rotate(-45 116.60 600.10)">C/GLSi</text>
<text x="135.00" y="600.10" font-size="11.9" font-weight="bold" text-anchor="end" fill="#111" stroke="#111" stroke-width="0.3" transform="rotate(-45 135.00 600.10)">P/GLSi</text>
<text x="153.80" y="600.10" font-size="11.9" font-weight="bold" text-anchor="end" fill="#111" stroke="#111" stroke-width="0.3" transform="rotate(-45 153.80 600.10)">Q/GLSi</text>
<line x1="94.00" y1="441.50" x2="149.00" y2="441.50" stroke="#111" stroke-width="1.2"/>
<text x="121.50" y="436.60" font-size="9.8" font-weight="bold" text-anchor="middle" fill="#111" stroke="#111" stroke-width="0.3">p &lt; 0.0001</text>
<line x1="75.60" y1="458.50" x2="130.50" y2="458.50" stroke="#111" stroke-width="1.2"/>
<text x="103.05" y="454.10" font-size="9.8" font-weight="bold" text-anchor="middle" fill="#111" stroke="#111" stroke-width="0.3">p &lt; 0.0001</text>
<line x1="57.40" y1="480.50" x2="93.60" y2="480.50" stroke="#111" stroke-width="1.2"/>
<text x="75.50" y="475.40" font-size="9.8" font-weight="bold" text-anchor="middle" fill="#111" stroke="#111" stroke-width="0.3">p &lt; 0.0001</text>
<line x1="112.30" y1="479.50" x2="149.00" y2="479.50" stroke="#111" stroke-width="1.2"/>
<text x="130.65" y="474.40" font-size="9.8" font-weight="bold" text-anchor="middle" fill="#111" stroke="#111" stroke-width="0.3">p &lt; 0.0001</text>
<line x1="57.40" y1="497.50" x2="75.00" y2="497.50" stroke="#111" stroke-width="1.2"/>
<text x="66.20" y="492.90" font-size="9.8" font-weight="bold" text-anchor="middle" fill="#111" stroke="#111" stroke-width="0.3">p &lt; 0.0001</text>
<line x1="112.30" y1="496.50" x2="130.50" y2="496.50" stroke="#111" stroke-width="1.2"/>
<text x="121.40" y="492.10" font-size="9.8" font-weight="bold" text-anchor="middle" fill="#111" stroke="#111" stroke-width="0.3">p &lt; 0.0001</text>
<text x="12.00" y="520.00" font-size="12.7" font-weight="bold" text-anchor="middle" fill="#111" stroke="#111" stroke-width="0.3" transform="rotate(-90 12.00 520.00)">% Live Cells</text>
<rect x="215.50" y="515.25" width="15.00" height="64.75" fill="#d6d6d6" stroke="#222" stroke-width="0.8"/>
<rect x="239.00" y="471.87" width="15.00" height="108.13" fill="#5e5e5e" stroke="#222" stroke-width="0.8"/>
<rect x="262.40" y="484.17" width="15.00" height="95.83" fill="#808080" stroke="#222" stroke-width="0.8"/>
<line x1="223.50" y1="508.13" x2="223.50" y2="522.37" stroke="#111" stroke-width="1.1"/>
<line x1="219.50" y1="508.50" x2="226.50" y2="508.50" stroke="#111" stroke-width="1.1"/>
<line x1="219.50" y1="522.50" x2="226.50" y2="522.50" stroke="#111" stroke-width="1.1"/>
<circle cx="219.00" cy="517.19" r="2.70" fill="#111"/>
<circle cx="223.00" cy="506.83" r="2.70" fill="#111"/>
<circle cx="228.00" cy="516.54" r="2.70" fill="#111"/>
<line x1="246.50" y1="468.63" x2="246.50" y2="475.11" stroke="#111" stroke-width="1.1"/>
<line x1="243.00" y1="468.50" x2="250.00" y2="468.50" stroke="#111" stroke-width="1.1"/>
<line x1="243.00" y1="475.50" x2="250.00" y2="475.50" stroke="#111" stroke-width="1.1"/>
<path d="M241.50 470.57 L244.47 475.97 L238.53 475.97Z" fill="#111"/>
<path d="M246.50 466.04 L249.47 471.44 L243.53 471.44Z" fill="#111"/>
<path d="M251.50 468.63 L254.47 474.03 L248.53 474.03Z" fill="#111"/>
<line x1="269.50" y1="482.23" x2="269.50" y2="486.11" stroke="#111" stroke-width="1.1"/>
<line x1="266.40" y1="482.50" x2="273.40" y2="482.50" stroke="#111" stroke-width="1.1"/>
<line x1="266.40" y1="486.50" x2="273.40" y2="486.50" stroke="#111" stroke-width="1.1"/>
<circle cx="264.90" cy="482.88" r="2.20" fill="#fff" stroke="#111" stroke-width="1.1"/>
<circle cx="269.90" cy="484.17" r="2.20" fill="#fff" stroke="#111" stroke-width="1.1"/>
<circle cx="274.90" cy="482.88" r="2.20" fill="#fff" stroke="#111" stroke-width="1.1"/>
<circle cx="264.90" cy="485.47" r="2.20" fill="#fff" stroke="#111" stroke-width="1.1"/>
<line x1="207.50" y1="449.80" x2="207.50" y2="580.70" stroke="#111" stroke-width="1.4"/>
<line x1="206.70" y1="580.50" x2="284.80" y2="580.50" stroke="#111" stroke-width="1.4"/>
<line x1="202.40" y1="580.50" x2="207.40" y2="580.50" stroke="#111" stroke-width="1.4"/>
<text x="200.60" y="584.43" font-size="12.3" font-weight="bold" text-anchor="end" fill="#111" stroke="#111" stroke-width="0.3">0.0</text>
<line x1="202.40" y1="547.50" x2="207.40" y2="547.50" stroke="#111" stroke-width="1.4"/>
<text x="200.60" y="552.05" font-size="12.3" font-weight="bold" text-anchor="end" fill="#111" stroke="#111" stroke-width="0.3">0.5</text>
<line x1="202.40" y1="515.50" x2="207.40" y2="515.50" stroke="#111" stroke-width="1.4"/>
<text x="200.60" y="519.68" font-size="12.3" font-weight="bold" text-anchor="end" fill="#111" stroke="#111" stroke-width="0.3">1.0</text>
<line x1="202.40" y1="482.50" x2="207.40" y2="482.50" stroke="#111" stroke-width="1.4"/>
<text x="200.60" y="487.30" font-size="12.3" font-weight="bold" text-anchor="end" fill="#111" stroke="#111" stroke-width="0.3">1.5</text>
<line x1="202.40" y1="450.50" x2="207.40" y2="450.50" stroke="#111" stroke-width="1.4"/>
<text x="200.60" y="454.93" font-size="12.3" font-weight="bold" text-anchor="end" fill="#111" stroke="#111" stroke-width="0.3">2.0</text>
<line x1="223.50" y1="580.00" x2="223.50" y2="584.50" stroke="#111" stroke-width="1.4"/>
<line x1="246.50" y1="580.00" x2="246.50" y2="584.50" stroke="#111" stroke-width="1.4"/>
<line x1="269.50" y1="580.00" x2="269.50" y2="584.50" stroke="#111" stroke-width="1.4"/>
<text x="227.30" y="597.20" font-size="13.3" font-weight="bold" text-anchor="end" fill="#111" stroke="#111" stroke-width="0.3" transform="rotate(-45 227.30 597.20)">C</text>
<text x="250.80" y="597.20" font-size="13.3" font-weight="bold" text-anchor="end" fill="#111" stroke="#111" stroke-width="0.3" transform="rotate(-45 250.80 597.20)">P</text>
<text x="274.20" y="597.20" font-size="13.3" font-weight="bold" text-anchor="end" fill="#111" stroke="#111" stroke-width="0.3" transform="rotate(-45 274.20 597.20)">P/GLSi</text>
<line x1="223.20" y1="464.50" x2="246.20" y2="464.50" stroke="#111" stroke-width="1.2"/>
<text x="234.70" y="459.60" font-size="9.8" font-weight="bold" text-anchor="middle" fill="#111" stroke="#111" stroke-width="0.3">p &lt; 0.0001</text>
<line x1="246.20" y1="448.50" x2="270.00" y2="448.50" stroke="#111" stroke-width="1.2"/>
<text x="258.10" y="443.60" font-size="9.8" font-weight="bold" text-anchor="middle" fill="#111" stroke="#111" stroke-width="0.3">p = 0.0396</text>
<text x="177.00" y="513.00" font-size="12.4" font-weight="bold" text-anchor="middle" fill="#111" stroke="#111" stroke-width="0.3" transform="rotate(-90 177.00 513.00)">Relative LPO</text>
<text x="182.50" y="442.50" font-size="14.5" font-weight="bold" text-anchor="start" fill="#111" stroke="#111" stroke-width="0.3">GBM12</text>
<rect x="340.35" y="517.60" width="15.30" height="66.40" fill="#d6d6d6" stroke="#222" stroke-width="0.8"/>
<rect x="363.35" y="497.68" width="15.30" height="86.32" fill="#5e5e5e" stroke="#222" stroke-width="0.8"/>
<rect x="386.05" y="509.30" width="15.30" height="74.70" fill="#808080" stroke="#222" stroke-width="0.8"/>
<line x1="348.50" y1="515.61" x2="348.50" y2="519.59" stroke="#111" stroke-width="1.1"/>
<line x1="344.50" y1="515.50" x2="351.50" y2="515.50" stroke="#111" stroke-width="1.1"/>
<line x1="344.50" y1="519.50" x2="351.50" y2="519.50" stroke="#111" stroke-width="1.1"/>
<circle cx="343.00" cy="518.93" r="2.70" fill="#111"/>
<circle cx="348.00" cy="515.61" r="2.70" fill="#111"/>
<circle cx="353.00" cy="516.27" r="2.70" fill="#111"/>
<line x1="371.50" y1="493.70" x2="371.50" y2="501.66" stroke="#111" stroke-width="1.1"/>
<line x1="367.50" y1="493.50" x2="374.50" y2="493.50" stroke="#111" stroke-width="1.1"/>
<line x1="367.50" y1="501.50" x2="374.50" y2="501.50" stroke="#111" stroke-width="1.1"/>
<path d="M366.00 496.43 L368.97 501.83 L363.03 501.83Z" fill="#111"/>
<path d="M371.00 489.79 L373.97 495.19 L368.03 495.19Z" fill="#111"/>
<path d="M376.00 495.10 L378.97 500.50 L373.03 500.50Z" fill="#111"/>
<line x1="393.50" y1="506.64" x2="393.50" y2="511.96" stroke="#111" stroke-width="1.1"/>
<line x1="390.20" y1="506.50" x2="397.20" y2="506.50" stroke="#111" stroke-width="1.1"/>
<line x1="390.20" y1="511.50" x2="397.20" y2="511.50" stroke="#111" stroke-width="1.1"/>
<circle cx="388.70" cy="506.98" r="2.20" fill="#fff" stroke="#111" stroke-width="1.1"/>
<circle cx="393.70" cy="509.63" r="2.20" fill="#fff" stroke="#111" stroke-width="1.1"/>
<circle cx="398.70" cy="509.63" r="2.20" fill="#fff" stroke="#111" stroke-width="1.1"/>
<circle cx="388.70" cy="512.29" r="2.20" fill="#fff" stroke="#111" stroke-width="1.1"/>
<line x1="333.50" y1="450.50" x2="333.50" y2="584.70" stroke="#111" stroke-width="1.4"/>
<line x1="333.00" y1="584.50" x2="409.30" y2="584.50" stroke="#111" stroke-width="1.4"/>
<line x1="328.70" y1="584.50" x2="333.70" y2="584.50" stroke="#111" stroke-width="1.4"/>
<text x="326.90" y="588.43" font-size="12.3" font-weight="bold" text-anchor="end" fill="#111" stroke="#111" stroke-width="0.3">0.0</text>
<line x1="328.70" y1="550.50" x2="333.70" y2="550.50" stroke="#111" stroke-width="1.4"/>
<text x="326.90" y="555.23" font-size="12.3" font-weight="bold" text-anchor="end" fill="#111" stroke="#111" stroke-width="0.3">0.5</text>
<line x1="328.70" y1="517.50" x2="333.70" y2="517.50" stroke="#111" stroke-width="1.4"/>
<text x="326.90" y="522.03" font-size="12.3" font-weight="bold" text-anchor="end" fill="#111" stroke="#111" stroke-width="0.3">1.0</text>
<line x1="328.70" y1="484.50" x2="333.70" y2="484.50" stroke="#111" stroke-width="1.4"/>
<text x="326.90" y="488.83" font-size="12.3" font-weight="bold" text-anchor="end" fill="#111" stroke="#111" stroke-width="0.3">1.5</text>
<line x1="328.70" y1="451.50" x2="333.70" y2="451.50" stroke="#111" stroke-width="1.4"/>
<text x="326.90" y="455.63" font-size="12.3" font-weight="bold" text-anchor="end" fill="#111" stroke="#111" stroke-width="0.3">2.0</text>
<line x1="348.50" y1="584.00" x2="348.50" y2="588.50" stroke="#111" stroke-width="1.4"/>
<line x1="371.50" y1="584.00" x2="371.50" y2="588.50" stroke="#111" stroke-width="1.4"/>
<line x1="393.50" y1="584.00" x2="393.50" y2="588.50" stroke="#111" stroke-width="1.4"/>
<text x="352.30" y="601.20" font-size="13.3" font-weight="bold" text-anchor="end" fill="#111" stroke="#111" stroke-width="0.3" transform="rotate(-45 352.30 601.20)">C</text>
<text x="375.30" y="601.20" font-size="13.3" font-weight="bold" text-anchor="end" fill="#111" stroke="#111" stroke-width="0.3" transform="rotate(-45 375.30 601.20)">P</text>
<text x="398.00" y="601.20" font-size="13.3" font-weight="bold" text-anchor="end" fill="#111" stroke="#111" stroke-width="0.3" transform="rotate(-45 398.00 601.20)">P/GLSi</text>
<line x1="348.70" y1="485.50" x2="370.60" y2="485.50" stroke="#111" stroke-width="1.2"/>
<text x="359.65" y="480.40" font-size="9.8" font-weight="bold" text-anchor="middle" fill="#111" stroke="#111" stroke-width="0.3">p = 0.0008</text>
<line x1="371.00" y1="466.50" x2="393.60" y2="466.50" stroke="#111" stroke-width="1.2"/>
<text x="382.30" y="461.60" font-size="9.8" font-weight="bold" text-anchor="middle" fill="#111" stroke="#111" stroke-width="0.3">p = 0.0133</text>
<text x="302.50" y="515.50" font-size="12.4" font-weight="bold" text-anchor="middle" fill="#111" stroke="#111" stroke-width="0.3" transform="rotate(-90 302.50 515.50)">Relative LPO</text>
<text x="329.40" y="441.20" font-size="14.5" font-weight="bold" text-anchor="start" fill="#111" stroke="#111" stroke-width="0.3">GBM28</text>
<rect x="45.50" y="746.65" width="13.00" height="62.45" fill="#d6d6d6" stroke="#222" stroke-width="0.8"/>
<rect x="65.00" y="740.40" width="13.00" height="68.70" fill="#a4a4a8" stroke="#222" stroke-width="0.8"/>
<rect x="84.50" y="704.18" width="13.00" height="104.92" fill="#5e5e5e" stroke="#222" stroke-width="0.8"/>
<rect x="104.50" y="757.27" width="13.00" height="51.83" fill="#808080" stroke="#222" stroke-width="0.8"/>
<line x1="52.50" y1="741.65" x2="52.50" y2="751.65" stroke="#111" stroke-width="1.1"/>
<line x1="48.50" y1="741.50" x2="55.50" y2="741.50" stroke="#111" stroke-width="1.1"/>
<line x1="48.50" y1="751.50" x2="55.50" y2="751.50" stroke="#111" stroke-width="1.1"/>
<circle cx="48.00" cy="749.77" r="2.60" fill="#111"/>
<circle cx="52.00" cy="739.16" r="2.60" fill="#111"/>
<circle cx="57.00" cy="749.15" r="2.60" fill="#111"/>
<line x1="71.50" y1="724.79" x2="71.50" y2="756.02" stroke="#111" stroke-width="1.1"/>
<line x1="68.00" y1="724.50" x2="75.00" y2="724.50" stroke="#111" stroke-width="1.1"/>
<line x1="68.00" y1="756.50" x2="75.00" y2="756.50" stroke="#111" stroke-width="1.1"/>
<path d="M67.50 752.27 L70.36 747.07 L64.64 747.07Z" fill="#111"/>
<path d="M71.50 728.54 L74.36 723.34 L68.64 723.34Z" fill="#111"/>
<path d="M76.50 751.64 L79.36 746.44 L73.64 746.44Z" fill="#111"/>
<line x1="91.50" y1="701.69" x2="91.50" y2="706.68" stroke="#111" stroke-width="1.1"/>
<line x1="87.50" y1="701.50" x2="94.50" y2="701.50" stroke="#111" stroke-width="1.1"/>
<line x1="87.50" y1="706.50" x2="94.50" y2="706.50" stroke="#111" stroke-width="1.1"/>
<path d="M87.00 701.06 L89.86 706.26 L84.14 706.26Z" fill="#111"/>
<path d="M91.00 698.57 L93.86 703.77 L88.14 703.77Z" fill="#111"/>
<path d="M96.00 701.06 L98.86 706.26 L93.14 706.26Z" fill="#111"/>
<line x1="111.50" y1="753.52" x2="111.50" y2="761.01" stroke="#111" stroke-width="1.1"/>
<line x1="107.50" y1="753.50" x2="114.50" y2="753.50" stroke="#111" stroke-width="1.1"/>
<line x1="107.50" y1="761.50" x2="114.50" y2="761.50" stroke="#111" stroke-width="1.1"/>
<circle cx="107.00" cy="760.39" r="2.10" fill="#fff" stroke="#111" stroke-width="1.1"/>
<circle cx="111.00" cy="753.52" r="2.10" fill="#fff" stroke="#111" stroke-width="1.1"/>
<circle cx="116.00" cy="757.89" r="2.10" fill="#fff" stroke="#111" stroke-width="1.1"/>
<line x1="39.50" y1="683.50" x2="39.50" y2="809.80" stroke="#111" stroke-width="1.4"/>
<line x1="38.90" y1="809.50" x2="119.70" y2="809.50" stroke="#111" stroke-width="1.4"/>
<line x1="34.60" y1="809.50" x2="39.60" y2="809.50" stroke="#111" stroke-width="1.4"/>
<text x="32.80" y="813.31" font-size="11.7" font-weight="bold" text-anchor="end" fill="#111" stroke="#111" stroke-width="0.3">0.0</text>
<line x1="34.60" y1="777.50" x2="39.60" y2="777.50" stroke="#111" stroke-width="1.4"/>
<text x="32.80" y="782.09" font-size="11.7" font-weight="bold" text-anchor="end" fill="#111" stroke="#111" stroke-width="0.3">0.5</text>
<line x1="34.60" y1="746.50" x2="39.60" y2="746.50" stroke="#111" stroke-width="1.4"/>
<text x="32.80" y="750.86" font-size="11.7" font-weight="bold" text-anchor="end" fill="#111" stroke="#111" stroke-width="0.3">1.0</text>
<line x1="34.60" y1="715.50" x2="39.60" y2="715.50" stroke="#111" stroke-width="1.4"/>
<text x="32.80" y="719.64" font-size="11.7" font-weight="bold" text-anchor="end" fill="#111" stroke="#111" stroke-width="0.3">1.5</text>
<line x1="34.60" y1="684.50" x2="39.60" y2="684.50" stroke="#111" stroke-width="1.4"/>
<text x="32.80" y="688.41" font-size="11.7" font-weight="bold" text-anchor="end" fill="#111" stroke="#111" stroke-width="0.3">2.0</text>
<line x1="52.50" y1="809.10" x2="52.50" y2="813.60" stroke="#111" stroke-width="1.4"/>
<line x1="71.50" y1="809.10" x2="71.50" y2="813.60" stroke="#111" stroke-width="1.4"/>
<line x1="91.50" y1="809.10" x2="91.50" y2="813.60" stroke="#111" stroke-width="1.4"/>
<line x1="111.50" y1="809.10" x2="111.50" y2="813.60" stroke="#111" stroke-width="1.4"/>
<text x="56.30" y="826.30" font-size="12.3" font-weight="bold" text-anchor="end" fill="#111" stroke="#111" stroke-width="0.3" transform="rotate(-45 56.30 826.30)">C</text>
<text x="75.80" y="826.30" font-size="12.3" font-weight="bold" text-anchor="end" fill="#111" stroke="#111" stroke-width="0.3" transform="rotate(-45 75.80 826.30)">C/Go6983</text>
<text x="95.30" y="826.30" font-size="12.3" font-weight="bold" text-anchor="end" fill="#111" stroke="#111" stroke-width="0.3" transform="rotate(-45 95.30 826.30)">P</text>
<text x="115.30" y="826.30" font-size="12.3" font-weight="bold" text-anchor="end" fill="#111" stroke="#111" stroke-width="0.3" transform="rotate(-45 115.30 826.30)">P/Go6983</text>
<line x1="52.80" y1="694.50" x2="91.60" y2="694.50" stroke="#111" stroke-width="1.2"/>
<text x="72.20" y="689.50" font-size="9.6" font-weight="bold" text-anchor="middle" fill="#111" stroke="#111" stroke-width="0.3">p = 0.0018</text>
<line x1="91.60" y1="676.50" x2="110.60" y2="676.50" stroke="#111" stroke-width="1.2"/>
<text x="101.10" y="671.40" font-size="9.6" font-weight="bold" text-anchor="middle" fill="#111" stroke="#111" stroke-width="0.3">p = 0.0004</text>
<text x="10.20" y="744.00" font-size="12.2" font-weight="bold" text-anchor="middle" fill="#111" stroke="#111" stroke-width="0.3" transform="rotate(-90 10.20 744.00)">Relative LPO</text>
<text x="28.60" y="658.20" font-size="14.5" font-weight="bold" text-anchor="start" fill="#111" stroke="#111" stroke-width="0.3">GBM12</text>
<rect x="171.30" y="742.80" width="12.40" height="62.50" fill="#d6d6d6" stroke="#222" stroke-width="0.8"/>
<rect x="189.40" y="755.30" width="12.40" height="50.00" fill="#a4a4a8" stroke="#222" stroke-width="0.8"/>
<rect x="208.30" y="724.05" width="12.40" height="81.25" fill="#5e5e5e" stroke="#222" stroke-width="0.8"/>
<rect x="226.60" y="755.92" width="12.40" height="49.38" fill="#808080" stroke="#222" stroke-width="0.8"/>
<line x1="177.50" y1="740.92" x2="177.50" y2="744.67" stroke="#111" stroke-width="1.1"/>
<line x1="174.00" y1="740.50" x2="181.00" y2="740.50" stroke="#111" stroke-width="1.1"/>
<line x1="174.00" y1="744.50" x2="181.00" y2="744.50" stroke="#111" stroke-width="1.1"/>
<circle cx="173.50" cy="744.67" r="2.50" fill="#111"/>
<circle cx="177.50" cy="741.55" r="2.50" fill="#111"/>
<circle cx="181.50" cy="742.17" r="2.50" fill="#111"/>
<line x1="195.50" y1="754.05" x2="195.50" y2="756.55" stroke="#111" stroke-width="1.1"/>
<line x1="192.10" y1="754.50" x2="199.10" y2="754.50" stroke="#111" stroke-width="1.1"/>
<line x1="192.10" y1="756.50" x2="199.10" y2="756.50" stroke="#111" stroke-width="1.1"/>
<path d="M191.60 758.30 L194.35 753.30 L188.85 753.30Z" fill="#111"/>
<path d="M195.60 757.67 L198.35 752.67 L192.85 752.67Z" fill="#111"/>
<path d="M199.60 758.92 L202.35 753.92 L196.85 753.92Z" fill="#111"/>
<line x1="214.50" y1="720.92" x2="214.50" y2="727.17" stroke="#111" stroke-width="1.1"/>
<line x1="211.00" y1="720.50" x2="218.00" y2="720.50" stroke="#111" stroke-width="1.1"/>
<line x1="211.00" y1="727.50" x2="218.00" y2="727.50" stroke="#111" stroke-width="1.1"/>
<path d="M210.50 722.92 L213.25 727.92 L207.75 727.92Z" fill="#111"/>
<path d="M214.50 716.67 L217.25 721.67 L211.75 721.67Z" fill="#111"/>
<path d="M218.50 722.30 L221.25 727.30 L215.75 727.30Z" fill="#111"/>
<line x1="232.50" y1="752.80" x2="232.50" y2="759.05" stroke="#111" stroke-width="1.1"/>
<line x1="229.30" y1="752.50" x2="236.30" y2="752.50" stroke="#111" stroke-width="1.1"/>
<line x1="229.30" y1="759.50" x2="236.30" y2="759.50" stroke="#111" stroke-width="1.1"/>
<circle cx="228.80" cy="753.42" r="2.00" fill="#fff" stroke="#111" stroke-width="1.1"/>
<circle cx="232.80" cy="757.80" r="2.00" fill="#fff" stroke="#111" stroke-width="1.1"/>
<circle cx="236.80" cy="755.92" r="2.00" fill="#fff" stroke="#111" stroke-width="1.1"/>
<line x1="165.50" y1="679.60" x2="165.50" y2="806.00" stroke="#111" stroke-width="1.4"/>
<line x1="164.80" y1="805.50" x2="246.00" y2="805.50" stroke="#111" stroke-width="1.4"/>
<line x1="160.50" y1="805.50" x2="165.50" y2="805.50" stroke="#111" stroke-width="1.4"/>
<text x="158.70" y="809.58" font-size="11.9" font-weight="bold" text-anchor="end" fill="#111" stroke="#111" stroke-width="0.3">0.0</text>
<line x1="160.50" y1="774.50" x2="165.50" y2="774.50" stroke="#111" stroke-width="1.4"/>
<text x="158.70" y="778.33" font-size="11.9" font-weight="bold" text-anchor="end" fill="#111" stroke="#111" stroke-width="0.3">0.5</text>
<line x1="160.50" y1="742.50" x2="165.50" y2="742.50" stroke="#111" stroke-width="1.4"/>
<text x="158.70" y="747.08" font-size="11.9" font-weight="bold" text-anchor="end" fill="#111" stroke="#111" stroke-width="0.3">1.0</text>
<line x1="160.50" y1="711.50" x2="165.50" y2="711.50" stroke="#111" stroke-width="1.4"/>
<text x="158.70" y="715.83" font-size="11.9" font-weight="bold" text-anchor="end" fill="#111" stroke="#111" stroke-width="0.3">1.5</text>
<line x1="160.50" y1="680.50" x2="165.50" y2="680.50" stroke="#111" stroke-width="1.4"/>
<text x="158.70" y="684.58" font-size="11.9" font-weight="bold" text-anchor="end" fill="#111" stroke="#111" stroke-width="0.3">2.0</text>
<line x1="177.50" y1="805.30" x2="177.50" y2="809.80" stroke="#111" stroke-width="1.4"/>
<line x1="195.50" y1="805.30" x2="195.50" y2="809.80" stroke="#111" stroke-width="1.4"/>
<line x1="214.50" y1="805.30" x2="214.50" y2="809.80" stroke="#111" stroke-width="1.4"/>
<line x1="232.50" y1="805.30" x2="232.50" y2="809.80" stroke="#111" stroke-width="1.4"/>
<text x="181.80" y="822.50" font-size="12.3" font-weight="bold" text-anchor="end" fill="#111" stroke="#111" stroke-width="0.3" transform="rotate(-45 181.80 822.50)">C</text>
<text x="199.90" y="822.50" font-size="12.3" font-weight="bold" text-anchor="end" fill="#111" stroke="#111" stroke-width="0.3" transform="rotate(-45 199.90 822.50)">C/Go6983</text>
<text x="218.80" y="822.50" font-size="12.3" font-weight="bold" text-anchor="end" fill="#111" stroke="#111" stroke-width="0.3" transform="rotate(-45 218.80 822.50)">P</text>
<text x="237.10" y="822.50" font-size="12.3" font-weight="bold" text-anchor="end" fill="#111" stroke="#111" stroke-width="0.3" transform="rotate(-45 237.10 822.50)">P/Go6983</text>
<line x1="177.70" y1="711.50" x2="214.10" y2="711.50" stroke="#111" stroke-width="1.2"/>
<text x="195.90" y="706.40" font-size="9.6" font-weight="bold" text-anchor="middle" fill="#111" stroke="#111" stroke-width="0.3">p = 0.0001</text>
<line x1="214.10" y1="693.50" x2="233.00" y2="693.50" stroke="#111" stroke-width="1.2"/>
<text x="223.55" y="689.20" font-size="9.6" font-weight="bold" text-anchor="middle" fill="#111" stroke="#111" stroke-width="0.3">p &lt; 0.0001</text>
<text x="135.20" y="740.00" font-size="12.2" font-weight="bold" text-anchor="middle" fill="#111" stroke="#111" stroke-width="0.3" transform="rotate(-90 135.20 740.00)">Relative LPO</text>
<text x="153.80" y="658.20" font-size="14.5" font-weight="bold" text-anchor="start" fill="#111" stroke="#111" stroke-width="0.3">GBM28</text>
<polyline points="418.00,405.30 431.28,399.25 444.56,384.50 457.84,370.00 471.12,361.25 484.40,355.50 497.68,350.00 510.96,346.75 524.24,342.50 537.52,338.25 550.80,335.25 564.08,328.25 577.36,324.00 590.64,319.50 603.92,315.50 617.20,313.50 630.48,309.50 643.76,309.00" fill="none" stroke="#f4a3e4" stroke-width="1.6"/>
<path d="M418.00 402.72 L420.09 406.52 L415.91 406.52Z" fill="#f4a3e4"/>
<path d="M431.28 396.97 L433.37 400.77 L429.19 400.77Z" fill="#f4a3e4"/>
<path d="M444.56 382.22 L446.65 386.02 L442.47 386.02Z" fill="#f4a3e4"/>
<path d="M457.84 367.72 L459.93 371.52 L455.75 371.52Z" fill="#f4a3e4"/>
<path d="M471.12 358.97 L473.21 362.77 L469.03 362.77Z" fill="#f4a3e4"/>
<path d="M484.40 353.22 L486.49 357.02 L482.31 357.02Z" fill="#f4a3e4"/>
<path d="M497.68 347.72 L499.77 351.52 L495.59 351.52Z" fill="#f4a3e4"/>
<path d="M510.96 344.47 L513.05 348.27 L508.87 348.27Z" fill="#f4a3e4"/>
<path d="M524.24 340.22 L526.33 344.02 L522.15 344.02Z" fill="#f4a3e4"/>
<path d="M537.52 335.97 L539.61 339.77 L535.43 339.77Z" fill="#f4a3e4"/>
<path d="M550.80 332.97 L552.89 336.77 L548.71 336.77Z" fill="#f4a3e4"/>
<path d="M564.08 325.97 L566.17 329.77 L561.99 329.77Z" fill="#f4a3e4"/>
<path d="M577.36 321.72 L579.45 325.52 L575.27 325.52Z" fill="#f4a3e4"/>
<path d="M590.64 317.22 L592.73 321.02 L588.55 321.02Z" fill="#f4a3e4"/>
<path d="M603.92 313.22 L606.01 317.02 L601.83 317.02Z" fill="#f4a3e4"/>
<path d="M617.20 311.22 L619.29 315.02 L615.11 315.02Z" fill="#f4a3e4"/>
<path d="M630.48 307.22 L632.57 311.02 L628.39 311.02Z" fill="#f4a3e4"/>
<path d="M643.76 306.72 L645.85 310.52 L641.67 310.52Z" fill="#f4a3e4"/>
<polyline points="423.20,405.30 436.48,399.50 449.76,388.25 463.04,376.75 476.32,369.25 489.60,365.25 502.88,360.75 516.16,357.50 529.44,354.25 542.72,351.75 556.00,347.50 569.28,343.50 582.56,339.75 595.84,333.00 609.12,325.50 622.40,321.00 635.68,314.25 648.96,308.50" fill="none" stroke="#90bff3" stroke-width="1.6"/>
<rect x="421.40" y="403.20" width="3.60" height="3.60" fill="#90bff3"/>
<rect x="434.68" y="397.70" width="3.60" height="3.60" fill="#90bff3"/>
<rect x="447.96" y="386.45" width="3.60" height="3.60" fill="#90bff3"/>
<rect x="461.24" y="374.95" width="3.60" height="3.60" fill="#90bff3"/>
<rect x="474.52" y="367.45" width="3.60" height="3.60" fill="#90bff3"/>
<rect x="487.80" y="363.45" width="3.60" height="3.60" fill="#90bff3"/>
<rect x="501.08" y="358.95" width="3.60" height="3.60" fill="#90bff3"/>
<rect x="514.36" y="355.70" width="3.60" height="3.60" fill="#90bff3"/>
<rect x="527.64" y="352.45" width="3.60" height="3.60" fill="#90bff3"/>
<rect x="540.92" y="349.95" width="3.60" height="3.60" fill="#90bff3"/>
<rect x="554.20" y="345.70" width="3.60" height="3.60" fill="#90bff3"/>
<rect x="567.48" y="341.70" width="3.60" height="3.60" fill="#90bff3"/>
<rect x="580.76" y="337.95" width="3.60" height="3.60" fill="#90bff3"/>
<rect x="594.04" y="331.20" width="3.60" height="3.60" fill="#90bff3"/>
<rect x="607.32" y="323.70" width="3.60" height="3.60" fill="#90bff3"/>
<rect x="620.60" y="319.20" width="3.60" height="3.60" fill="#90bff3"/>
<rect x="633.88" y="312.45" width="3.60" height="3.60" fill="#90bff3"/>
<rect x="647.16" y="306.70" width="3.60" height="3.60" fill="#90bff3"/>
<line x1="415.50" y1="260.00" x2="415.50" y2="406.20" stroke="#111" stroke-width="1.5"/>
<line x1="414.90" y1="405.50" x2="652.30" y2="405.50" stroke="#111" stroke-width="1.5"/>
<line x1="410.60" y1="405.50" x2="415.60" y2="405.50" stroke="#111" stroke-width="1.5"/>
<text x="408.80" y="410.20" font-size="13.2" font-weight="bold" text-anchor="end" fill="#111" stroke="#111" stroke-width="0.3">0</text>
<line x1="410.60" y1="376.50" x2="415.60" y2="376.50" stroke="#111" stroke-width="1.5"/>
<text x="408.80" y="381.24" font-size="13.2" font-weight="bold" text-anchor="end" fill="#111" stroke="#111" stroke-width="0.3">500</text>
<line x1="410.60" y1="347.50" x2="415.60" y2="347.50" stroke="#111" stroke-width="1.5"/>
<text x="408.80" y="352.28" font-size="13.2" font-weight="bold" text-anchor="end" fill="#111" stroke="#111" stroke-width="0.3">1000</text>
<line x1="410.60" y1="318.50" x2="415.60" y2="318.50" stroke="#111" stroke-width="1.5"/>
<text x="408.80" y="323.32" font-size="13.2" font-weight="bold" text-anchor="end" fill="#111" stroke="#111" stroke-width="0.3">1500</text>
<line x1="410.60" y1="289.50" x2="415.60" y2="289.50" stroke="#111" stroke-width="1.5"/>
<text x="408.80" y="294.36" font-size="13.2" font-weight="bold" text-anchor="end" fill="#111" stroke="#111" stroke-width="0.3">2000</text>
<line x1="410.60" y1="260.50" x2="415.60" y2="260.50" stroke="#111" stroke-width="1.5"/>
<text x="408.80" y="265.40" font-size="13.2" font-weight="bold" text-anchor="end" fill="#111" stroke="#111" stroke-width="0.3">2500</text>
<line x1="420.50" y1="405.50" x2="420.50" y2="410.50" stroke="#111" stroke-width="1.5"/>
<text x="423.30" y="421.80" font-size="13" font-weight="bold" text-anchor="end" fill="#111" stroke="#111" stroke-width="0.3" transform="rotate(-45 423.30 421.80)">0</text>
<line x1="433.50" y1="405.50" x2="433.50" y2="410.50" stroke="#111" stroke-width="1.5"/>
<text x="436.58" y="421.80" font-size="13" font-weight="bold" text-anchor="end" fill="#111" stroke="#111" stroke-width="0.3" transform="rotate(-45 436.58 421.80)">2</text>
<line x1="446.50" y1="405.50" x2="446.50" y2="410.50" stroke="#111" stroke-width="1.5"/>
<text x="449.86" y="421.80" font-size="13" font-weight="bold" text-anchor="end" fill="#111" stroke="#111" stroke-width="0.3" transform="rotate(-45 449.86 421.80)">4</text>
<line x1="460.50" y1="405.50" x2="460.50" y2="410.50" stroke="#111" stroke-width="1.5"/>
<text x="463.14" y="421.80" font-size="13" font-weight="bold" text-anchor="end" fill="#111" stroke="#111" stroke-width="0.3" transform="rotate(-45 463.14 421.80)">6</text>
<line x1="473.50" y1="405.50" x2="473.50" y2="410.50" stroke="#111" stroke-width="1.5"/>
<text x="476.42" y="421.80" font-size="13" font-weight="bold" text-anchor="end" fill="#111" stroke="#111" stroke-width="0.3" transform="rotate(-45 476.42 421.80)">8</text>
<line x1="486.50" y1="405.50" x2="486.50" y2="410.50" stroke="#111" stroke-width="1.5"/>
<text x="489.70" y="421.80" font-size="13" font-weight="bold" text-anchor="end" fill="#111" stroke="#111" stroke-width="0.3" transform="rotate(-45 489.70 421.80)">10</text>
<line x1="499.50" y1="405.50" x2="499.50" y2="410.50" stroke="#111" stroke-width="1.5"/>
<text x="502.98" y="421.80" font-size="13" font-weight="bold" text-anchor="end" fill="#111" stroke="#111" stroke-width="0.3" transform="rotate(-45 502.98 421.80)">12</text>
<line x1="513.50" y1="405.50" x2="513.50" y2="410.50" stroke="#111" stroke-width="1.5"/>
<text x="516.26" y="421.80" font-size="13" font-weight="bold" text-anchor="end" fill="#111" stroke="#111" stroke-width="0.3" transform="rotate(-45 516.26 421.80)">14</text>
<line x1="526.50" y1="405.50" x2="526.50" y2="410.50" stroke="#111" stroke-width="1.5"/>
<text x="529.54" y="421.80" font-size="13" font-weight="bold" text-anchor="end" fill="#111" stroke="#111" stroke-width="0.3" transform="rotate(-45 529.54 421.80)">16</text>
<line x1="539.50" y1="405.50" x2="539.50" y2="410.50" stroke="#111" stroke-width="1.5"/>
<text x="542.82" y="421.80" font-size="13" font-weight="bold" text-anchor="end" fill="#111" stroke="#111" stroke-width="0.3" transform="rotate(-45 542.82 421.80)">18</text>
<line x1="553.50" y1="405.50" x2="553.50" y2="410.50" stroke="#111" stroke-width="1.5"/>
<text x="556.10" y="421.80" font-size="13" font-weight="bold" text-anchor="end" fill="#111" stroke="#111" stroke-width="0.3" transform="rotate(-45 556.10 421.80)">20</text>
<line x1="566.50" y1="405.50" x2="566.50" y2="410.50" stroke="#111" stroke-width="1.5"/>
<text x="569.38" y="421.80" font-size="13" font-weight="bold" text-anchor="end" fill="#111" stroke="#111" stroke-width="0.3" transform="rotate(-45 569.38 421.80)">22</text>
<line x1="579.50" y1="405.50" x2="579.50" y2="410.50" stroke="#111" stroke-width="1.5"/>
<text x="582.66" y="421.80" font-size="13" font-weight="bold" text-anchor="end" fill="#111" stroke="#111" stroke-width="0.3" transform="rotate(-45 582.66 421.80)">24</text>
<line x1="592.50" y1="405.50" x2="592.50" y2="410.50" stroke="#111" stroke-width="1.5"/>
<text x="595.94" y="421.80" font-size="13" font-weight="bold" text-anchor="end" fill="#111" stroke="#111" stroke-width="0.3" transform="rotate(-45 595.94 421.80)">26</text>
<line x1="606.50" y1="405.50" x2="606.50" y2="410.50" stroke="#111" stroke-width="1.5"/>
<text x="609.22" y="421.80" font-size="13" font-weight="bold" text-anchor="end" fill="#111" stroke="#111" stroke-width="0.3" transform="rotate(-45 609.22 421.80)">28</text>
<line x1="619.50" y1="405.50" x2="619.50" y2="410.50" stroke="#111" stroke-width="1.5"/>
<text x="622.50" y="421.80" font-size="13" font-weight="bold" text-anchor="end" fill="#111" stroke="#111" stroke-width="0.3" transform="rotate(-45 622.50 421.80)">30</text>
<line x1="632.50" y1="405.50" x2="632.50" y2="410.50" stroke="#111" stroke-width="1.5"/>
<text x="635.78" y="421.80" font-size="13" font-weight="bold" text-anchor="end" fill="#111" stroke="#111" stroke-width="0.3" transform="rotate(-45 635.78 421.80)">32</text>
<line x1="646.50" y1="405.50" x2="646.50" y2="410.50" stroke="#111" stroke-width="1.5"/>
<text x="649.06" y="421.80" font-size="13" font-weight="bold" text-anchor="end" fill="#111" stroke="#111" stroke-width="0.3" transform="rotate(-45 649.06 421.80)">34</text>
<text x="373.70" y="331.00" font-size="13" font-weight="bold" text-anchor="middle" fill="#111" stroke="#111" stroke-width="0.3" transform="rotate(-90 373.70 331.00)">GFP Count</text>
<text x="498.60" y="448.90" font-size="11.5" font-weight="bold" text-anchor="start" fill="#111" stroke="#111" stroke-width="0.3">Time (in hrs)</text>
<line x1="427.30" y1="272.50" x2="439.80" y2="272.50" stroke="#f4a3e4" stroke-width="1.4"/>
<path d="M433.50 270.38 L435.26 273.58 L431.74 273.58Z" fill="#f4a3e4"/>
<line x1="427.30" y1="288.50" x2="439.80" y2="288.50" stroke="#90bff3" stroke-width="1.4"/>
<rect x="431.90" y="286.70" width="3.20" height="3.20" fill="#90bff3"/>
<text x="447.60" y="276.70" font-size="12.8" font-weight="bold" text-anchor="start" fill="#111" stroke="#111" stroke-width="0.3">P</text>
<text x="447.60" y="292.70" font-size="12.8" font-weight="bold" text-anchor="start" fill="#111" stroke="#111" stroke-width="0.3">P/GLSi</text>
<text x="425.50" y="492.80" font-size="18" font-weight="bold" text-anchor="start" fill="#111" stroke="#111" stroke-width="0.3">(i)</text>
<line x1="438.70" y1="535.50" x2="680.00" y2="535.50" stroke="#111" stroke-width="1.6"/>
<path d="M685 535.6 L679 532.4 L679 538.8Z" fill="#111"/>
<line x1="438.50" y1="529.60" x2="438.50" y2="535.60" stroke="#111" stroke-width="1.3"/>
<line x1="511.50" y1="529.60" x2="511.50" y2="535.60" stroke="#111" stroke-width="1.3"/>
<line x1="554.50" y1="529.60" x2="554.50" y2="535.60" stroke="#111" stroke-width="1.3"/>
<line x1="586.50" y1="529.60" x2="586.50" y2="535.60" stroke="#111" stroke-width="1.3"/>
<line x1="625.50" y1="529.60" x2="625.50" y2="535.60" stroke="#111" stroke-width="1.3"/>
<rect x="648" y="530" width="8" height="11" fill="#fff"/>
<line x1="645.50" y1="540.20" x2="651.00" y2="530.20" stroke="#111" stroke-width="1.3"/>
<line x1="651.50" y1="540.20" x2="657.00" y2="530.20" stroke="#111" stroke-width="1.3"/>
<text x="429.50" y="524.40" font-size="11" font-weight="bold" text-anchor="start" fill="#111" stroke="#111" stroke-width="0.3">Day 0</text>
<text x="491.00" y="524.40" font-size="11" font-weight="bold" text-anchor="start" fill="#111" stroke="#111" stroke-width="0.3">6</text>
<text x="509.40" y="524.40" font-size="11" font-weight="bold" text-anchor="start" fill="#111" stroke="#111" stroke-width="0.3">7</text>
<text x="548.00" y="524.40" font-size="11" font-weight="bold" text-anchor="start" fill="#111" stroke="#111" stroke-width="0.3">10</text>
<text x="579.20" y="524.40" font-size="11" font-weight="bold" text-anchor="start" fill="#111" stroke="#111" stroke-width="0.3">13</text>
<text x="617.00" y="524.40" font-size="11" font-weight="bold" text-anchor="start" fill="#111" stroke="#111" stroke-width="0.3">16</text>
<line x1="493.20" y1="510.50" x2="553.60" y2="510.50" stroke="#3aa7e0" stroke-width="1.2"/>
<circle cx="493.2" cy="510" r="2.1" fill="#2ba3e3"/><circle cx="553.6" cy="510" r="2.1" fill="#2ba3e3"/>
<text x="523.20" y="491.20" font-size="11" font-weight="bold" text-anchor="middle" fill="#111" stroke="#111" stroke-width="0.3">GLSi</text>
<text x="523.30" y="503.70" font-size="11" font-weight="bold" text-anchor="middle" fill="#111" stroke="#111" stroke-width="0.3">150mg/kg</text>
<line x1="511.6" y1="542" x2="511.6" y2="539" stroke="#e8202a" stroke-width="1.1"/>
<path d="M511.6 536.4 L509.4 540 L513.8 540Z" fill="#e8202a"/>
<text x="438.00" y="552.50" font-size="11" font-weight="bold" text-anchor="middle" fill="#111" stroke="#111" stroke-width="0.3">005</text>
<text x="438.50" y="565.50" font-size="11" font-weight="bold" text-anchor="middle" fill="#111" stroke="#111" stroke-width="0.3">1x10<tspan dy="-4" font-size="7.5">5</tspan></text>
<text x="513.00" y="552.50" font-size="11" font-weight="bold" text-anchor="middle" fill="#111" stroke="#111" stroke-width="0.3">oHSV</text>
<text x="513.00" y="565.50" font-size="11" font-weight="bold" text-anchor="middle" fill="#111" stroke="#111" stroke-width="0.3">2x10<tspan dy="-4" font-size="7.5">5</tspan><tspan dy="4"> pfu</tspan></text>
<text x="428.70" y="610.00" font-size="19" font-weight="bold" text-anchor="start" fill="#111" stroke="#111" stroke-width="0.3">(ii)</text>
<line x1="485.50" y1="621.80" x2="485.50" y2="785.70" stroke="#111" stroke-width="1.5"/>
<line x1="484.50" y1="785.50" x2="668.50" y2="785.50" stroke="#111" stroke-width="1.5"/>
<line x1="480.70" y1="785.50" x2="485.20" y2="785.50" stroke="#111" stroke-width="1.5"/>
<text x="479.70" y="788.90" font-size="11" font-weight="bold" text-anchor="end" fill="#111" stroke="#111" stroke-width="0.3">0</text>
<line x1="480.70" y1="755.50" x2="485.20" y2="755.50" stroke="#111" stroke-width="1.5"/>
<text x="479.70" y="759.40" font-size="11" font-weight="bold" text-anchor="end" fill="#111" stroke="#111" stroke-width="0.3">20</text>
<line x1="480.70" y1="726.50" x2="485.20" y2="726.50" stroke="#111" stroke-width="1.5"/>
<text x="479.70" y="729.90" font-size="11" font-weight="bold" text-anchor="end" fill="#111" stroke="#111" stroke-width="0.3">40</text>
<line x1="480.70" y1="696.50" x2="485.20" y2="696.50" stroke="#111" stroke-width="1.5"/>
<text x="479.70" y="700.40" font-size="11" font-weight="bold" text-anchor="end" fill="#111" stroke="#111" stroke-width="0.3">60</text>
<line x1="480.70" y1="667.50" x2="485.20" y2="667.50" stroke="#111" stroke-width="1.5"/>
<text x="479.70" y="670.90" font-size="11" font-weight="bold" text-anchor="end" fill="#111" stroke="#111" stroke-width="0.3">80</text>
<line x1="480.70" y1="637.50" x2="485.20" y2="637.50" stroke="#111" stroke-width="1.5"/>
<text x="479.70" y="641.40" font-size="11" font-weight="bold" text-anchor="end" fill="#111" stroke="#111" stroke-width="0.3">100</text>
<line x1="485.50" y1="785.00" x2="485.50" y2="788.80" stroke="#111" stroke-width="1.5"/>
<text x="485.20" y="801.60" font-size="11" font-weight="bold" text-anchor="middle" fill="#111" stroke="#111" stroke-width="0.3">0</text>
<line x1="521.50" y1="785.00" x2="521.50" y2="788.80" stroke="#111" stroke-width="1.5"/>
<text x="521.84" y="801.60" font-size="11" font-weight="bold" text-anchor="middle" fill="#111" stroke="#111" stroke-width="0.3">20</text>
<line x1="558.50" y1="785.00" x2="558.50" y2="788.80" stroke="#111" stroke-width="1.5"/>
<text x="558.48" y="801.60" font-size="11" font-weight="bold" text-anchor="middle" fill="#111" stroke="#111" stroke-width="0.3">40</text>
<line x1="595.50" y1="785.00" x2="595.50" y2="788.80" stroke="#111" stroke-width="1.5"/>
<text x="595.12" y="801.60" font-size="11" font-weight="bold" text-anchor="middle" fill="#111" stroke="#111" stroke-width="0.3">60</text>
<line x1="631.50" y1="785.00" x2="631.50" y2="788.80" stroke="#111" stroke-width="1.5"/>
<text x="631.76" y="801.60" font-size="11" font-weight="bold" text-anchor="middle" fill="#111" stroke="#111" stroke-width="0.3">80</text>
<line x1="668.50" y1="785.00" x2="668.50" y2="788.80" stroke="#111" stroke-width="1.5"/>
<text x="668.40" y="801.60" font-size="11" font-weight="bold" text-anchor="middle" fill="#111" stroke="#111" stroke-width="0.3">100</text>
<text x="458.20" y="701.50" font-size="11.1" font-weight="bold" text-anchor="middle" fill="#111" stroke="#111" stroke-width="0.3" transform="rotate(-90 458.20 701.50)">Probability of Survival</text>
<text x="576.50" y="818.40" font-size="10.8" font-weight="bold" text-anchor="middle" fill="#111" stroke="#111" stroke-width="0.3">Days</text>
<text x="487.50" y="623.40" font-size="9.6" font-weight="bold" text-anchor="start" fill="#111" stroke="#111" stroke-width="0.3">1x10<tspan dy="-4" font-size="7">5</tspan><tspan dy="4"> 005 GSCs</tspan></text>
<text x="487.50" y="634.50" font-size="9.6" font-weight="bold" text-anchor="start" fill="#111" stroke="#111" stroke-width="0.3">in C57BL/6 mice</text>
<path d="M485.20 637.50 H518.18 V649.74 H523.67 V662.13 H527.34 V686.62 H531.00 V711.25 H532.83 V723.49 H534.66 V748.12 H540.16 V760.37 H554.82 V785.00" fill="none" stroke="#90bff3" stroke-width="1.7"/>
<path d="M485.20 637.50 H518.18 V649.74 H529.17 V662.13 H531.00 V674.38 H538.33 V686.62 H547.49 V699.01 H551.15 V723.49 H554.82 V735.88 H558.48 V748.12 H569.47 V760.37 H650.08" fill="none" stroke="#f4a3e4" stroke-width="1.7"/>
<path d="M485.20 637.50 H512.68 V650.92 H514.51 V664.35 H516.34 V677.77 H518.18 V691.19 H523.67 V731.31 H531.00 V744.73 H534.66 V758.15 H536.50 V771.58 H562.14 V785.00" fill="none" stroke="#111" stroke-width="1.6"/>
<path d="M518.18 647.10 L520.60 651.50 L515.76 651.50Z" fill="#f4a3e4"/>
<path d="M529.17 659.49 L531.59 663.89 L526.75 663.89Z" fill="#f4a3e4"/>
<path d="M531.00 671.74 L533.42 676.13 L528.58 676.13Z" fill="#f4a3e4"/>
<path d="M538.33 683.98 L540.75 688.38 L535.91 688.38Z" fill="#f4a3e4"/>
<path d="M547.49 696.37 L549.91 700.77 L545.07 700.77Z" fill="#f4a3e4"/>
<path d="M551.15 720.85 L553.57 725.25 L548.73 725.25Z" fill="#f4a3e4"/>
<path d="M554.82 733.24 L557.24 737.64 L552.40 737.64Z" fill="#f4a3e4"/>
<path d="M558.48 745.49 L560.90 749.88 L556.06 749.88Z" fill="#f4a3e4"/>
<path d="M569.47 757.73 L571.89 762.13 L567.05 762.13Z" fill="#f4a3e4"/>
<path d="M650.08 757.73 L652.50 762.13 L647.66 762.13Z" fill="#f4a3e4"/>
<rect x="516.08" y="647.64" width="4.20" height="4.20" fill="#90bff3"/>
<rect x="521.57" y="660.03" width="4.20" height="4.20" fill="#90bff3"/>
<rect x="525.24" y="684.52" width="4.20" height="4.20" fill="#90bff3"/>
<rect x="528.90" y="709.15" width="4.20" height="4.20" fill="#90bff3"/>
<rect x="530.73" y="721.39" width="4.20" height="4.20" fill="#90bff3"/>
<rect x="532.56" y="746.02" width="4.20" height="4.20" fill="#90bff3"/>
<rect x="538.06" y="758.27" width="4.20" height="4.20" fill="#90bff3"/>
<rect x="552.72" y="782.90" width="4.20" height="4.20" fill="#90bff3"/>
<circle cx="512.68" cy="650.92" r="2.40" fill="#111"/>
<circle cx="514.51" cy="664.35" r="2.40" fill="#111"/>
<circle cx="516.34" cy="677.77" r="2.40" fill="#111"/>
<circle cx="518.18" cy="691.19" r="2.40" fill="#111"/>
<circle cx="523.67" cy="731.31" r="2.40" fill="#111"/>
<circle cx="531.00" cy="744.73" r="2.40" fill="#111"/>
<circle cx="534.66" cy="758.15" r="2.40" fill="#111"/>
<circle cx="536.50" cy="771.58" r="2.40" fill="#111"/>
<circle cx="562.14" cy="785.00" r="2.40" fill="#111"/>
<line x1="562.20" y1="650.50" x2="573.00" y2="650.50" stroke="#111" stroke-width="1.4"/>
<circle cx="567.60" cy="650.80" r="1.90" fill="#111"/>
<line x1="562.20" y1="664.50" x2="573.00" y2="664.50" stroke="#f4a3e4" stroke-width="1.4"/>
<path d="M567.60 662.26 L569.47 665.66 L565.73 665.66Z" fill="#f4a3e4"/>
<line x1="562.20" y1="678.50" x2="573.00" y2="678.50" stroke="#90bff3" stroke-width="1.4"/>
<rect x="565.90" y="676.30" width="3.40" height="3.40" fill="#90bff3"/>
<text x="579.30" y="655.60" font-size="10.8" font-weight="bold" text-anchor="start" fill="#111" stroke="#111" stroke-width="0.3">C (n=11)</text>
<text x="579.30" y="668.80" font-size="10.8" font-weight="bold" text-anchor="start" fill="#111" stroke="#111" stroke-width="0.3">P (n=12)</text>
<text x="579.30" y="682.10" font-size="10.8" font-weight="bold" text-anchor="start" fill="#111" stroke="#111" stroke-width="0.3">P/GLSi (n=12)</text>
<path d="M639.5 647.2 H643.3 V664.3 H639.5" fill="none" stroke="#111" stroke-width="1.4"/>
<path d="M667 659 H670.4 V679.9 H667" fill="none" stroke="#111" stroke-width="1.4"/>
<text x="648.50" y="667.80" font-size="19.5" font-weight="bold" text-anchor="start" fill="#111" stroke="#111" stroke-width="0.3">**</text>
<text x="675.80" y="680.20" font-size="19.5" font-weight="bold" text-anchor="start" fill="#111" stroke="#111" stroke-width="0.3">*</text>
<text x="586.00" y="727.40" font-size="11.1" font-weight="bold" text-anchor="start" fill="#111" stroke="#111" stroke-width="0.3">**p=0.0050</text>
<text x="586.00" y="740.40" font-size="11.1" font-weight="bold" text-anchor="start" fill="#111" stroke="#111" stroke-width="0.3">*p= 0.0203</text>
<text transform="translate(254.1 673.9) scale(0.83 1)" x="0" y="0" font-size="13" font-weight="bold" text-anchor="start" fill="#111" stroke="#111" stroke-width="0.3">kDa</text>
<text transform="translate(291.8 673.9) scale(0.83 1)" x="0" y="0" font-size="13" font-weight="bold" text-anchor="middle" fill="#111" stroke="#111" stroke-width="0.3">C</text>
<text transform="translate(322.7 673.9) scale(0.83 1)" x="0" y="0" font-size="13" font-weight="bold" text-anchor="middle" fill="#111" stroke="#111" stroke-width="0.3">P</text>
<text transform="translate(349.8 673.9) scale(0.83 1)" x="0" y="0" font-size="13" font-weight="bold" text-anchor="middle" fill="#111" stroke="#111" stroke-width="0.3">C</text>
<text transform="translate(377.3 673.9) scale(0.83 1)" x="0" y="0" font-size="13" font-weight="bold" text-anchor="middle" fill="#111" stroke="#111" stroke-width="0.3">P</text>
<text x="362.50" y="654.20" font-size="11.5" font-weight="bold" text-anchor="middle" fill="#111" stroke="#111" stroke-width="0.3">+ Go-6983</text>
<line x1="342.30" y1="659.50" x2="384.30" y2="659.50" stroke="#111" stroke-width="1.0"/>
<defs><filter id="bl" x="-20%" y="-100%" width="140%" height="300%"><feGaussianBlur stdDeviation="1.1"/></filter><filter id="bl2" x="-20%" y="-100%" width="140%" height="300%"><feGaussianBlur stdDeviation="1.6"/></filter><linearGradient id="haze" x1="0" y1="0" x2="0" y2="1"><stop offset="0" stop-color="#f4f4f4" stop-opacity="0"/><stop offset="1" stop-color="#d8d8d8"/></linearGradient></defs>
<rect x="277.3" y="677.3" width="120.6" height="33.7" fill="#ececec" stroke="#333" stroke-width="1.1"/>
<rect x="277.3" y="716.3" width="120.6" height="27.0" fill="#f7f7f7" stroke="#333" stroke-width="1.1"/>
<rect x="277.3" y="747.5" width="120.6" height="36.5" fill="#f5f5f5" stroke="#333" stroke-width="1.1"/>
<rect x="277.3" y="787.7" width="120.6" height="32.5" fill="#f9f9f9" stroke="#333" stroke-width="1.1"/>
<text x="400.00" y="701.50" font-size="12.1" font-weight="bold" text-anchor="start" fill="#111" stroke="#111" stroke-width="0.3">ACSL4</text>
<text x="400.00" y="734.50" font-size="12.1" font-weight="bold" text-anchor="start" fill="#111" stroke="#111" stroke-width="0.3">4-HNE</text>
<text x="400.00" y="770.50" font-size="12.1" font-weight="bold" text-anchor="start" fill="#111" stroke="#111" stroke-width="0.3">GPX4</text>
<text x="400.00" y="808.00" font-size="12.1" font-weight="bold" text-anchor="start" fill="#111" stroke="#111" stroke-width="0.3">Tubulin</text>
<text x="266.00" y="702.00" font-size="10.6" font-weight="bold" text-anchor="middle" fill="#111" stroke="#111" stroke-width="0.3">75</text>
<text x="266.00" y="734.50" font-size="10.6" font-weight="bold" text-anchor="middle" fill="#111" stroke="#111" stroke-width="0.3">76</text>
<text x="266.00" y="772.50" font-size="10.6" font-weight="bold" text-anchor="middle" fill="#111" stroke="#111" stroke-width="0.3">22</text>
<text x="266.00" y="807.00" font-size="10.6" font-weight="bold" text-anchor="middle" fill="#111" stroke="#111" stroke-width="0.3">55</text>
<rect x="280" y="751" width="23" height="13" fill="url(#haze)" filter="url(#bl2)"/>
<rect x="338" y="751" width="27" height="13" fill="url(#haze)" filter="url(#bl2)"/>
<rect x="368" y="751" width="26" height="13" fill="url(#haze)" filter="url(#bl2)"/>
<rect x="281.8" y="695.5" width="23.0" height="5.4" rx="2.5" fill="#1c1c1c" filter="url(#bl)"/>
<rect x="311.8" y="694.7" width="22.2" height="5.8" rx="2.5" fill="#0a0a0a" filter="url(#bl)"/>
<rect x="341.2" y="695.0" width="22.0" height="4.8" rx="2.4" fill="#2e2e2e" filter="url(#bl)"/>
<rect x="369.6" y="695.0" width="22.2" height="4.8" rx="2.4" fill="#2a2a2a" filter="url(#bl)"/>
<rect x="281.8" y="724.5" width="22.0" height="6.0" rx="2.5" fill="#2e2e2e" filter="url(#bl)"/>
<rect x="311.2" y="726.6" width="21.0" height="5.6" rx="2.5" fill="#151515" filter="url(#bl)"/>
<rect x="344.8" y="728.2" width="20.4" height="3.5" rx="1.8" fill="#e2e2e2" filter="url(#bl)"/>
<rect x="370.8" y="728.2" width="22.4" height="3.5" rx="1.8" fill="#e4e4e4" filter="url(#bl)"/>
<rect x="308.6" y="763.5" width="24.9" height="6.5" rx="2.5" fill="#808080" filter="url(#bl)"/>
<rect x="338.8" y="760.5" width="25.7" height="9.0" rx="2.5" fill="#0d0d0d" filter="url(#bl)"/>
<rect x="368.8" y="761.8" width="24.9" height="8.5" rx="2.5" fill="#1a1a1a" filter="url(#bl)"/>
<rect x="313.2" y="799.9" width="23.0" height="6.0" rx="2.5" fill="#1e1e1e" filter="url(#bl)"/>
<rect x="341.5" y="800.7" width="23.0" height="6.0" rx="2.5" fill="#1a1a1a" filter="url(#bl)"/>
<rect x="371.6" y="801.5" width="22.1" height="5.5" rx="2.5" fill="#1a1a1a" filter="url(#bl)"/>
<rect x="280.4" y="763.6" width="22.4" height="10.4" rx="4" fill="#080808" filter="url(#bl)"/>
<path d="M283.5 797.4 L308 799.2 L308 804.6 L283.5 802.8Z" fill="#1a1a1a" filter="url(#bl)"/>
</g></svg>
</body></html>
